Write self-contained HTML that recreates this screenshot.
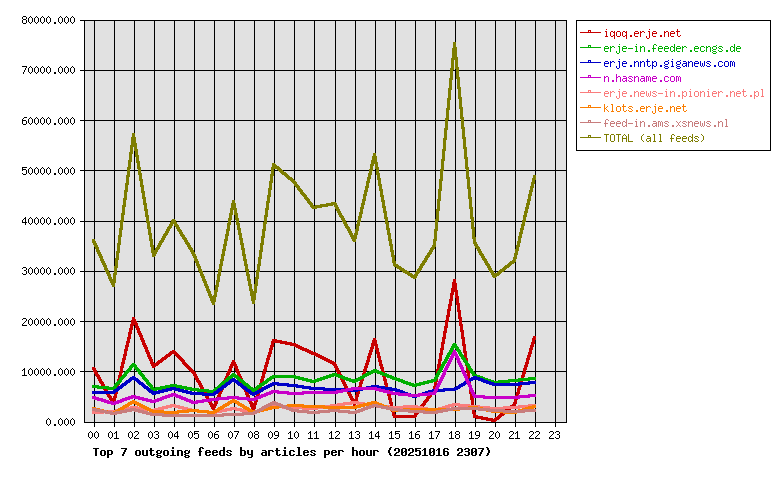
<!DOCTYPE html>
<html><head><meta charset="utf-8"><title>Top 7 outgoing feeds by articles per hour</title>
<style>html,body{margin:0;padding:0;background:#fff;}body{width:780px;height:480px;overflow:hidden;font-family:"Liberation Mono",monospace;}svg{display:block;}</style>
</head><body>
<svg width="780" height="480" viewBox="0 0 780 480" shape-rendering="crispEdges">
<defs><path id="b100" d="M4 2h2v1h-2zM4 3h2v1h-2zM4 4h2v1h-2zM1 5h5v1h-5zM0 6h2v1h-2zM4 6h2v1h-2zM0 7h2v1h-2zM4 7h2v1h-2zM0 8h2v1h-2zM4 8h2v1h-2zM0 9h2v1h-2zM4 9h2v1h-2zM1 10h5v1h-5z"/><path id="b101" d="M1 5h4v1h-4zM0 6h2v1h-2zM4 6h2v1h-2zM0 7h6v1h-6zM0 8h2v1h-2zM0 9h2v1h-2zM4 9h2v1h-2zM1 10h4v1h-4z"/><path id="b102" d="M2 2h3v1h-3zM1 3h2v1h-2zM4 3h2v1h-2zM1 4h2v1h-2zM1 5h2v1h-2zM0 6h4v1h-4zM1 7h2v1h-2zM1 8h2v1h-2zM1 9h2v1h-2zM1 10h2v1h-2z"/><path id="b103" d="M1 5h3v1h-3zM5 5h1v1h-1zM0 6h2v1h-2zM4 6h2v1h-2zM0 7h2v1h-2zM4 7h2v1h-2zM1 8h4v1h-4zM0 9h2v1h-2zM1 10h4v1h-4zM0 11h2v1h-2zM4 11h2v1h-2zM1 12h4v1h-4z"/><path id="b104" d="M0 2h2v1h-2zM0 3h2v1h-2zM0 4h2v1h-2zM0 5h5v1h-5zM0 6h2v1h-2zM4 6h2v1h-2zM0 7h2v1h-2zM4 7h2v1h-2zM0 8h2v1h-2zM4 8h2v1h-2zM0 9h2v1h-2zM4 9h2v1h-2zM0 10h2v1h-2zM4 10h2v1h-2z"/><path id="b105" d="M2 2h2v1h-2zM2 3h2v1h-2zM1 5h3v1h-3zM2 6h2v1h-2zM2 7h2v1h-2zM2 8h2v1h-2zM2 9h2v1h-2zM0 10h6v1h-6z"/><path id="b108" d="M1 2h3v1h-3zM2 3h2v1h-2zM2 4h2v1h-2zM2 5h2v1h-2zM2 6h2v1h-2zM2 7h2v1h-2zM2 8h2v1h-2zM2 9h2v1h-2zM0 10h6v1h-6z"/><path id="b110" d="M0 5h5v1h-5zM0 6h2v1h-2zM4 6h2v1h-2zM0 7h2v1h-2zM4 7h2v1h-2zM0 8h2v1h-2zM4 8h2v1h-2zM0 9h2v1h-2zM4 9h2v1h-2zM0 10h2v1h-2zM4 10h2v1h-2z"/><path id="b111" d="M1 5h4v1h-4zM0 6h2v1h-2zM4 6h2v1h-2zM0 7h2v1h-2zM4 7h2v1h-2zM0 8h2v1h-2zM4 8h2v1h-2zM0 9h2v1h-2zM4 9h2v1h-2zM1 10h4v1h-4z"/><path id="b112" d="M0 5h5v1h-5zM0 6h2v1h-2zM4 6h2v1h-2zM0 7h2v1h-2zM4 7h2v1h-2zM0 8h2v1h-2zM4 8h2v1h-2zM0 9h5v1h-5zM0 10h2v1h-2zM0 11h2v1h-2zM0 12h2v1h-2z"/><path id="b114" d="M0 5h5v1h-5zM0 6h2v1h-2zM4 6h2v1h-2zM0 7h2v1h-2zM0 8h2v1h-2zM0 9h2v1h-2zM0 10h2v1h-2z"/><path id="b115" d="M1 5h4v1h-4zM0 6h2v1h-2zM4 6h2v1h-2zM1 7h2v1h-2zM3 8h2v1h-2zM0 9h2v1h-2zM4 9h2v1h-2zM1 10h4v1h-4z"/><path id="b116" d="M1 3h2v1h-2zM1 4h2v1h-2zM0 5h5v1h-5zM1 6h2v1h-2zM1 7h2v1h-2zM1 8h2v1h-2zM1 9h2v1h-2zM4 9h2v1h-2zM2 10h3v1h-3z"/><path id="b117" d="M0 5h2v1h-2zM4 5h2v1h-2zM0 6h2v1h-2zM4 6h2v1h-2zM0 7h2v1h-2zM4 7h2v1h-2zM0 8h2v1h-2zM4 8h2v1h-2zM0 9h2v1h-2zM4 9h2v1h-2zM1 10h5v1h-5z"/><path id="b121" d="M0 5h2v1h-2zM4 5h2v1h-2zM0 6h2v1h-2zM4 6h2v1h-2zM0 7h2v1h-2zM4 7h2v1h-2zM0 8h2v1h-2zM4 8h2v1h-2zM1 9h5v1h-5zM4 10h2v1h-2zM4 11h2v1h-2zM1 12h4v1h-4z"/><path id="b40" d="M3 2h2v1h-2zM2 3h2v1h-2zM2 4h2v1h-2zM1 5h2v1h-2zM1 6h2v1h-2zM1 7h2v1h-2zM2 8h2v1h-2zM2 9h2v1h-2zM3 10h2v1h-2z"/><path id="b41" d="M1 2h2v1h-2zM2 3h2v1h-2zM2 4h2v1h-2zM3 5h2v1h-2zM3 6h2v1h-2zM3 7h2v1h-2zM2 8h2v1h-2zM2 9h2v1h-2zM1 10h2v1h-2z"/><path id="b48" d="M1 3h4v1h-4zM0 4h2v1h-2zM4 4h2v1h-2zM0 5h2v1h-2zM4 5h2v1h-2zM0 6h2v1h-2zM3 6h3v1h-3zM0 7h3v1h-3zM4 7h2v1h-2zM0 8h2v1h-2zM4 8h2v1h-2zM0 9h2v1h-2zM4 9h2v1h-2zM1 10h4v1h-4z"/><path id="b49" d="M2 3h2v1h-2zM1 4h3v1h-3zM0 5h1v1h-1zM2 5h2v1h-2zM2 6h2v1h-2zM2 7h2v1h-2zM2 8h2v1h-2zM2 9h2v1h-2zM0 10h6v1h-6z"/><path id="b50" d="M1 3h4v1h-4zM0 4h2v1h-2zM4 4h2v1h-2zM0 5h2v1h-2zM4 5h2v1h-2zM4 6h2v1h-2zM2 7h3v1h-3zM1 8h2v1h-2zM0 9h2v1h-2zM0 10h6v1h-6z"/><path id="b51" d="M1 3h4v1h-4zM0 4h2v1h-2zM4 4h2v1h-2zM4 5h2v1h-2zM1 6h4v1h-4zM4 7h2v1h-2zM4 8h2v1h-2zM0 9h2v1h-2zM4 9h2v1h-2zM1 10h4v1h-4z"/><path id="b53" d="M0 3h6v1h-6zM0 4h2v1h-2zM0 5h5v1h-5zM0 6h2v1h-2zM4 6h2v1h-2zM4 7h2v1h-2zM4 8h2v1h-2zM0 9h2v1h-2zM4 9h2v1h-2zM1 10h4v1h-4z"/><path id="b54" d="M1 3h4v1h-4zM0 4h2v1h-2zM4 4h2v1h-2zM0 5h2v1h-2zM0 6h5v1h-5zM0 7h2v1h-2zM4 7h2v1h-2zM0 8h2v1h-2zM4 8h2v1h-2zM0 9h2v1h-2zM4 9h2v1h-2zM1 10h4v1h-4z"/><path id="b55" d="M0 3h6v1h-6zM4 4h2v1h-2zM3 5h2v1h-2zM3 6h2v1h-2zM2 7h2v1h-2zM2 8h2v1h-2zM1 9h2v1h-2zM1 10h2v1h-2z"/><path id="b84" d="M0 3h6v1h-6zM2 4h2v1h-2zM2 5h2v1h-2zM2 6h2v1h-2zM2 7h2v1h-2zM2 8h2v1h-2zM2 9h2v1h-2zM2 10h2v1h-2z"/><path id="b97" d="M1 5h4v1h-4zM4 6h2v1h-2zM1 7h5v1h-5zM0 8h2v1h-2zM4 8h2v1h-2zM0 9h2v1h-2zM4 9h2v1h-2zM1 10h5v1h-5z"/><path id="b98" d="M0 2h2v1h-2zM0 3h2v1h-2zM0 4h2v1h-2zM0 5h5v1h-5zM0 6h2v1h-2zM4 6h2v1h-2zM0 7h2v1h-2zM4 7h2v1h-2zM0 8h2v1h-2zM4 8h2v1h-2zM0 9h2v1h-2zM4 9h2v1h-2zM0 10h5v1h-5z"/><path id="b99" d="M1 5h4v1h-4zM0 6h2v1h-2zM4 6h2v1h-2zM0 7h2v1h-2zM0 8h2v1h-2zM0 9h2v1h-2zM4 9h2v1h-2zM1 10h4v1h-4z"/><path id="s100" d="M4 3h1v1h-1zM4 4h1v1h-1zM1 5h2v1h-2zM4 5h1v1h-1zM0 6h1v1h-1zM3 6h2v1h-2zM0 7h1v1h-1zM4 7h1v1h-1zM0 8h1v1h-1zM4 8h1v1h-1zM0 9h1v1h-1zM3 9h2v1h-2zM1 10h2v1h-2zM4 10h1v1h-1z"/><path id="s101" d="M1 5h3v1h-3zM0 6h1v1h-1zM4 6h1v1h-1zM0 7h5v1h-5zM0 8h1v1h-1zM0 9h1v1h-1zM1 10h3v1h-3z"/><path id="s102" d="M2 3h2v1h-2zM1 4h1v1h-1zM4 4h1v1h-1zM1 5h1v1h-1zM1 6h1v1h-1zM0 7h4v1h-4zM1 8h1v1h-1zM1 9h1v1h-1zM1 10h1v1h-1z"/><path id="s103" d="M4 4h1v1h-1zM1 5h3v1h-3zM0 6h1v1h-1zM4 6h1v1h-1zM0 7h1v1h-1zM4 7h1v1h-1zM1 8h3v1h-3zM0 9h1v1h-1zM1 10h3v1h-3zM0 11h1v1h-1zM4 11h1v1h-1zM1 12h3v1h-3z"/><path id="s104" d="M0 3h1v1h-1zM0 4h1v1h-1zM0 5h1v1h-1zM2 5h2v1h-2zM0 6h2v1h-2zM4 6h1v1h-1zM0 7h1v1h-1zM4 7h1v1h-1zM0 8h1v1h-1zM4 8h1v1h-1zM0 9h1v1h-1zM4 9h1v1h-1zM0 10h1v1h-1zM4 10h1v1h-1z"/><path id="s105" d="M2 3h1v1h-1zM1 5h2v1h-2zM2 6h1v1h-1zM2 7h1v1h-1zM2 8h1v1h-1zM2 9h1v1h-1zM1 10h3v1h-3z"/><path id="s106" d="M3 3h1v1h-1zM2 5h2v1h-2zM3 6h1v1h-1zM3 7h1v1h-1zM3 8h1v1h-1zM3 9h1v1h-1zM0 10h1v1h-1zM3 10h1v1h-1zM0 11h1v1h-1zM3 11h1v1h-1zM1 12h2v1h-2z"/><path id="s107" d="M0 3h1v1h-1zM0 4h1v1h-1zM0 5h1v1h-1zM3 5h1v1h-1zM0 6h1v1h-1zM2 6h1v1h-1zM0 7h2v1h-2zM0 8h1v1h-1zM2 8h1v1h-1zM0 9h1v1h-1zM3 9h1v1h-1zM0 10h1v1h-1zM4 10h1v1h-1z"/><path id="s108" d="M1 3h2v1h-2zM2 4h1v1h-1zM2 5h1v1h-1zM2 6h1v1h-1zM2 7h1v1h-1zM2 8h1v1h-1zM2 9h1v1h-1zM1 10h3v1h-3z"/><path id="s109" d="M0 5h2v1h-2zM3 5h1v1h-1zM0 6h1v1h-1zM2 6h1v1h-1zM4 6h1v1h-1zM0 7h1v1h-1zM2 7h1v1h-1zM4 7h1v1h-1zM0 8h1v1h-1zM2 8h1v1h-1zM4 8h1v1h-1zM0 9h1v1h-1zM2 9h1v1h-1zM4 9h1v1h-1zM0 10h1v1h-1zM4 10h1v1h-1z"/><path id="s110" d="M0 5h1v1h-1zM2 5h2v1h-2zM0 6h2v1h-2zM4 6h1v1h-1zM0 7h1v1h-1zM4 7h1v1h-1zM0 8h1v1h-1zM4 8h1v1h-1zM0 9h1v1h-1zM4 9h1v1h-1zM0 10h1v1h-1zM4 10h1v1h-1z"/><path id="s111" d="M1 5h3v1h-3zM0 6h1v1h-1zM4 6h1v1h-1zM0 7h1v1h-1zM4 7h1v1h-1zM0 8h1v1h-1zM4 8h1v1h-1zM0 9h1v1h-1zM4 9h1v1h-1zM1 10h3v1h-3z"/><path id="s112" d="M0 5h1v1h-1zM2 5h2v1h-2zM0 6h2v1h-2zM4 6h1v1h-1zM0 7h1v1h-1zM4 7h1v1h-1zM0 8h1v1h-1zM4 8h1v1h-1zM0 9h2v1h-2zM4 9h1v1h-1zM0 10h1v1h-1zM2 10h2v1h-2zM0 11h1v1h-1zM0 12h1v1h-1z"/><path id="s113" d="M1 5h2v1h-2zM4 5h1v1h-1zM0 6h1v1h-1zM3 6h2v1h-2zM0 7h1v1h-1zM4 7h1v1h-1zM0 8h1v1h-1zM4 8h1v1h-1zM0 9h1v1h-1zM3 9h2v1h-2zM1 10h2v1h-2zM4 10h1v1h-1zM4 11h1v1h-1zM4 12h1v1h-1z"/><path id="s114" d="M0 5h1v1h-1zM2 5h2v1h-2zM0 6h2v1h-2zM4 6h1v1h-1zM0 7h1v1h-1zM0 8h1v1h-1zM0 9h1v1h-1zM0 10h1v1h-1z"/><path id="s115" d="M1 5h3v1h-3zM0 6h1v1h-1zM4 6h1v1h-1zM1 7h2v1h-2zM3 8h1v1h-1zM0 9h1v1h-1zM4 9h1v1h-1zM1 10h3v1h-3z"/><path id="s116" d="M1 3h1v1h-1zM1 4h1v1h-1zM0 5h4v1h-4zM1 6h1v1h-1zM1 7h1v1h-1zM1 8h1v1h-1zM1 9h1v1h-1zM4 9h1v1h-1zM2 10h2v1h-2z"/><path id="s119" d="M0 5h1v1h-1zM4 5h1v1h-1zM0 6h1v1h-1zM4 6h1v1h-1zM0 7h1v1h-1zM2 7h1v1h-1zM4 7h1v1h-1zM0 8h1v1h-1zM2 8h1v1h-1zM4 8h1v1h-1zM0 9h1v1h-1zM2 9h1v1h-1zM4 9h1v1h-1zM1 10h1v1h-1zM3 10h1v1h-1z"/><path id="s120" d="M0 5h1v1h-1zM4 5h1v1h-1zM1 6h1v1h-1zM3 6h1v1h-1zM2 7h1v1h-1zM2 8h1v1h-1zM1 9h1v1h-1zM3 9h1v1h-1zM0 10h1v1h-1zM4 10h1v1h-1z"/><path id="s40" d="M3 3h1v1h-1zM2 4h1v1h-1zM1 5h1v1h-1zM1 6h1v1h-1zM1 7h1v1h-1zM1 8h1v1h-1zM2 9h1v1h-1zM3 10h1v1h-1z"/><path id="s41" d="M1 3h1v1h-1zM2 4h1v1h-1zM3 5h1v1h-1zM3 6h1v1h-1zM3 7h1v1h-1zM3 8h1v1h-1zM2 9h1v1h-1zM1 10h1v1h-1z"/><path id="s45" d="M0 7h5v1h-5z"/><path id="s46" d="M2 9h2v1h-2zM2 10h2v1h-2z"/><path id="s48" d="M2 3h1v1h-1zM1 4h1v1h-1zM3 4h1v1h-1zM0 5h1v1h-1zM4 5h1v1h-1zM0 6h1v1h-1zM4 6h1v1h-1zM0 7h1v1h-1zM4 7h1v1h-1zM0 8h1v1h-1zM4 8h1v1h-1zM1 9h1v1h-1zM3 9h1v1h-1zM2 10h1v1h-1z"/><path id="s49" d="M2 3h1v1h-1zM1 4h2v1h-2zM0 5h1v1h-1zM2 5h1v1h-1zM2 6h1v1h-1zM2 7h1v1h-1zM2 8h1v1h-1zM2 9h1v1h-1zM0 10h5v1h-5z"/><path id="s50" d="M1 3h3v1h-3zM0 4h1v1h-1zM4 4h1v1h-1zM4 5h1v1h-1zM3 6h1v1h-1zM2 7h1v1h-1zM1 8h1v1h-1zM0 9h1v1h-1zM0 10h5v1h-5z"/><path id="s51" d="M1 3h3v1h-3zM0 4h1v1h-1zM4 4h1v1h-1zM4 5h1v1h-1zM2 6h2v1h-2zM4 7h1v1h-1zM4 8h1v1h-1zM0 9h1v1h-1zM4 9h1v1h-1zM1 10h3v1h-3z"/><path id="s52" d="M3 3h1v1h-1zM2 4h2v1h-2zM1 5h1v1h-1zM3 5h1v1h-1zM0 6h1v1h-1zM3 6h1v1h-1zM0 7h1v1h-1zM3 7h1v1h-1zM0 8h5v1h-5zM3 9h1v1h-1zM3 10h1v1h-1z"/><path id="s53" d="M0 3h5v1h-5zM0 4h1v1h-1zM0 5h4v1h-4zM0 6h1v1h-1zM4 6h1v1h-1zM4 7h1v1h-1zM4 8h1v1h-1zM0 9h1v1h-1zM4 9h1v1h-1zM1 10h3v1h-3z"/><path id="s54" d="M2 3h3v1h-3zM1 4h1v1h-1zM0 5h1v1h-1zM0 6h4v1h-4zM0 7h1v1h-1zM4 7h1v1h-1zM0 8h1v1h-1zM4 8h1v1h-1zM0 9h1v1h-1zM4 9h1v1h-1zM1 10h3v1h-3z"/><path id="s55" d="M0 3h5v1h-5zM4 4h1v1h-1zM3 5h1v1h-1zM3 6h1v1h-1zM2 7h1v1h-1zM2 8h1v1h-1zM1 9h1v1h-1zM1 10h1v1h-1z"/><path id="s56" d="M1 3h3v1h-3zM0 4h1v1h-1zM4 4h1v1h-1zM0 5h1v1h-1zM4 5h1v1h-1zM1 6h3v1h-3zM0 7h1v1h-1zM4 7h1v1h-1zM0 8h1v1h-1zM4 8h1v1h-1zM0 9h1v1h-1zM4 9h1v1h-1zM1 10h3v1h-3z"/><path id="s57" d="M1 3h3v1h-3zM0 4h1v1h-1zM4 4h1v1h-1zM0 5h1v1h-1zM4 5h1v1h-1zM0 6h1v1h-1zM4 6h1v1h-1zM1 7h4v1h-4zM4 8h1v1h-1zM3 9h1v1h-1zM0 10h3v1h-3z"/><path id="s65" d="M2 3h1v1h-1zM1 4h1v1h-1zM3 4h1v1h-1zM0 5h1v1h-1zM4 5h1v1h-1zM0 6h1v1h-1zM4 6h1v1h-1zM0 7h5v1h-5zM0 8h1v1h-1zM4 8h1v1h-1zM0 9h1v1h-1zM4 9h1v1h-1zM0 10h1v1h-1zM4 10h1v1h-1z"/><path id="s76" d="M0 3h1v1h-1zM0 4h1v1h-1zM0 5h1v1h-1zM0 6h1v1h-1zM0 7h1v1h-1zM0 8h1v1h-1zM0 9h1v1h-1zM0 10h5v1h-5z"/><path id="s79" d="M1 3h3v1h-3zM0 4h1v1h-1zM4 4h1v1h-1zM0 5h1v1h-1zM4 5h1v1h-1zM0 6h1v1h-1zM4 6h1v1h-1zM0 7h1v1h-1zM4 7h1v1h-1zM0 8h1v1h-1zM4 8h1v1h-1zM0 9h1v1h-1zM4 9h1v1h-1zM1 10h3v1h-3z"/><path id="s84" d="M0 3h5v1h-5zM2 4h1v1h-1zM2 5h1v1h-1zM2 6h1v1h-1zM2 7h1v1h-1zM2 8h1v1h-1zM2 9h1v1h-1zM2 10h1v1h-1z"/><path id="s97" d="M1 5h3v1h-3zM4 6h1v1h-1zM1 7h4v1h-4zM0 8h1v1h-1zM4 8h1v1h-1zM0 9h1v1h-1zM3 9h2v1h-2zM1 10h2v1h-2zM4 10h1v1h-1z"/><path id="s99" d="M1 5h3v1h-3zM0 6h1v1h-1zM4 6h1v1h-1zM0 7h1v1h-1zM0 8h1v1h-1zM0 9h1v1h-1zM4 9h1v1h-1zM1 10h3v1h-3z"/></defs>
<rect width="780" height="480" fill="#fff"/>
<rect x="84" y="20" width="483" height="403" fill="#e1e1e1"/>
<path fill="#000" d="M84 422h483v1h-483zM80 371h487v1h-487zM80 321h487v1h-487zM80 271h487v1h-487zM80 221h487v1h-487zM80 170h487v1h-487zM80 120h487v1h-487zM80 70h487v1h-487zM80 20h487v1h-487zM94 20h1v407h-1zM114 20h1v407h-1zM134 20h1v407h-1zM154 20h1v407h-1zM174 20h1v407h-1zM194 20h1v407h-1zM214 20h1v407h-1zM234 20h1v407h-1zM254 20h1v407h-1zM274 20h1v407h-1zM294 20h1v407h-1zM314 20h1v407h-1zM335 20h1v407h-1zM355 20h1v407h-1zM375 20h1v407h-1zM395 20h1v407h-1zM415 20h1v407h-1zM435 20h1v407h-1zM455 20h1v407h-1zM475 20h1v407h-1zM495 20h1v407h-1zM515 20h1v407h-1zM535 20h1v407h-1zM555 20h1v407h-1zM84 20h1v403h-1zM566 20h1v403h-1zM576 20h195v1h-195zM576 150h195v1h-195zM576 20h1v131h-1zM770 20h1v131h-1z"/>
<g transform="translate(46 415)" fill="#000"><use href="#s48" x="0"/><use href="#s46" x="6"/><use href="#s48" x="12"/><use href="#s48" x="18"/><use href="#s48" x="24"/></g>
<g transform="translate(22 365)" fill="#000"><use href="#s49" x="0"/><use href="#s48" x="6"/><use href="#s48" x="12"/><use href="#s48" x="18"/><use href="#s48" x="24"/><use href="#s46" x="30"/><use href="#s48" x="36"/><use href="#s48" x="42"/><use href="#s48" x="48"/></g>
<g transform="translate(22 315)" fill="#000"><use href="#s50" x="0"/><use href="#s48" x="6"/><use href="#s48" x="12"/><use href="#s48" x="18"/><use href="#s48" x="24"/><use href="#s46" x="30"/><use href="#s48" x="36"/><use href="#s48" x="42"/><use href="#s48" x="48"/></g>
<g transform="translate(22 264)" fill="#000"><use href="#s51" x="0"/><use href="#s48" x="6"/><use href="#s48" x="12"/><use href="#s48" x="18"/><use href="#s48" x="24"/><use href="#s46" x="30"/><use href="#s48" x="36"/><use href="#s48" x="42"/><use href="#s48" x="48"/></g>
<g transform="translate(22 214)" fill="#000"><use href="#s52" x="0"/><use href="#s48" x="6"/><use href="#s48" x="12"/><use href="#s48" x="18"/><use href="#s48" x="24"/><use href="#s46" x="30"/><use href="#s48" x="36"/><use href="#s48" x="42"/><use href="#s48" x="48"/></g>
<g transform="translate(22 164)" fill="#000"><use href="#s53" x="0"/><use href="#s48" x="6"/><use href="#s48" x="12"/><use href="#s48" x="18"/><use href="#s48" x="24"/><use href="#s46" x="30"/><use href="#s48" x="36"/><use href="#s48" x="42"/><use href="#s48" x="48"/></g>
<g transform="translate(22 114)" fill="#000"><use href="#s54" x="0"/><use href="#s48" x="6"/><use href="#s48" x="12"/><use href="#s48" x="18"/><use href="#s48" x="24"/><use href="#s46" x="30"/><use href="#s48" x="36"/><use href="#s48" x="42"/><use href="#s48" x="48"/></g>
<g transform="translate(22 63)" fill="#000"><use href="#s55" x="0"/><use href="#s48" x="6"/><use href="#s48" x="12"/><use href="#s48" x="18"/><use href="#s48" x="24"/><use href="#s46" x="30"/><use href="#s48" x="36"/><use href="#s48" x="42"/><use href="#s48" x="48"/></g>
<g transform="translate(22 13)" fill="#000"><use href="#s56" x="0"/><use href="#s48" x="6"/><use href="#s48" x="12"/><use href="#s48" x="18"/><use href="#s48" x="24"/><use href="#s46" x="30"/><use href="#s48" x="36"/><use href="#s48" x="42"/><use href="#s48" x="48"/></g>
<g transform="translate(88 428)" fill="#000"><use href="#s48" x="0"/><use href="#s48" x="6"/></g>
<g transform="translate(108 428)" fill="#000"><use href="#s48" x="0"/><use href="#s49" x="6"/></g>
<g transform="translate(128 428)" fill="#000"><use href="#s48" x="0"/><use href="#s50" x="6"/></g>
<g transform="translate(148 428)" fill="#000"><use href="#s48" x="0"/><use href="#s51" x="6"/></g>
<g transform="translate(168 428)" fill="#000"><use href="#s48" x="0"/><use href="#s52" x="6"/></g>
<g transform="translate(188 428)" fill="#000"><use href="#s48" x="0"/><use href="#s53" x="6"/></g>
<g transform="translate(208 428)" fill="#000"><use href="#s48" x="0"/><use href="#s54" x="6"/></g>
<g transform="translate(228 428)" fill="#000"><use href="#s48" x="0"/><use href="#s55" x="6"/></g>
<g transform="translate(248 428)" fill="#000"><use href="#s48" x="0"/><use href="#s56" x="6"/></g>
<g transform="translate(268 428)" fill="#000"><use href="#s48" x="0"/><use href="#s57" x="6"/></g>
<g transform="translate(288 428)" fill="#000"><use href="#s49" x="0"/><use href="#s48" x="6"/></g>
<g transform="translate(308 428)" fill="#000"><use href="#s49" x="0"/><use href="#s49" x="6"/></g>
<g transform="translate(329 428)" fill="#000"><use href="#s49" x="0"/><use href="#s50" x="6"/></g>
<g transform="translate(349 428)" fill="#000"><use href="#s49" x="0"/><use href="#s51" x="6"/></g>
<g transform="translate(369 428)" fill="#000"><use href="#s49" x="0"/><use href="#s52" x="6"/></g>
<g transform="translate(389 428)" fill="#000"><use href="#s49" x="0"/><use href="#s53" x="6"/></g>
<g transform="translate(409 428)" fill="#000"><use href="#s49" x="0"/><use href="#s54" x="6"/></g>
<g transform="translate(429 428)" fill="#000"><use href="#s49" x="0"/><use href="#s55" x="6"/></g>
<g transform="translate(449 428)" fill="#000"><use href="#s49" x="0"/><use href="#s56" x="6"/></g>
<g transform="translate(469 428)" fill="#000"><use href="#s49" x="0"/><use href="#s57" x="6"/></g>
<g transform="translate(489 428)" fill="#000"><use href="#s50" x="0"/><use href="#s48" x="6"/></g>
<g transform="translate(509 428)" fill="#000"><use href="#s50" x="0"/><use href="#s49" x="6"/></g>
<g transform="translate(529 428)" fill="#000"><use href="#s50" x="0"/><use href="#s50" x="6"/></g>
<g transform="translate(549 428)" fill="#000"><use href="#s50" x="0"/><use href="#s51" x="6"/></g>
<g transform="translate(93 445)" fill="#000"><use href="#b84" x="0"/><use href="#b111" x="7"/><use href="#b112" x="14"/><use href="#b55" x="28"/><use href="#b111" x="42"/><use href="#b117" x="49"/><use href="#b116" x="56"/><use href="#b103" x="63"/><use href="#b111" x="70"/><use href="#b105" x="77"/><use href="#b110" x="84"/><use href="#b103" x="91"/><use href="#b102" x="105"/><use href="#b101" x="112"/><use href="#b101" x="119"/><use href="#b100" x="126"/><use href="#b115" x="133"/><use href="#b98" x="147"/><use href="#b121" x="154"/><use href="#b97" x="168"/><use href="#b114" x="175"/><use href="#b116" x="182"/><use href="#b105" x="189"/><use href="#b99" x="196"/><use href="#b108" x="203"/><use href="#b101" x="210"/><use href="#b115" x="217"/><use href="#b112" x="231"/><use href="#b101" x="238"/><use href="#b114" x="245"/><use href="#b104" x="259"/><use href="#b111" x="266"/><use href="#b117" x="273"/><use href="#b114" x="280"/><use href="#b40" x="294"/><use href="#b50" x="301"/><use href="#b48" x="308"/><use href="#b50" x="315"/><use href="#b53" x="322"/><use href="#b49" x="329"/><use href="#b48" x="336"/><use href="#b49" x="343"/><use href="#b54" x="350"/><use href="#b50" x="364"/><use href="#b51" x="371"/><use href="#b48" x="378"/><use href="#b55" x="385"/><use href="#b41" x="392"/></g>
<path fill="#c80000" d="M580 32h21v1h-21zM588 30h3v1h-3zM588 31h1v1h-1zM590 31h1v1h-1z"/>
<g transform="translate(604 26)" fill="#c80000"><use href="#s105" x="0"/><use href="#s113" x="6"/><use href="#s111" x="12"/><use href="#s113" x="18"/><use href="#s46" x="24"/><use href="#s101" x="30"/><use href="#s114" x="36"/><use href="#s106" x="42"/><use href="#s101" x="48"/><use href="#s46" x="54"/><use href="#s110" x="60"/><use href="#s101" x="66"/><use href="#s116" x="72"/></g>
<path fill="#00af00" d="M580 47h21v1h-21zM588 45h3v1h-3zM588 46h1v1h-1zM590 46h1v1h-1z"/>
<g transform="translate(604 41)" fill="#00af00"><use href="#s101" x="0"/><use href="#s114" x="6"/><use href="#s106" x="12"/><use href="#s101" x="18"/><use href="#s45" x="24"/><use href="#s105" x="30"/><use href="#s110" x="36"/><use href="#s46" x="42"/><use href="#s102" x="48"/><use href="#s101" x="54"/><use href="#s101" x="60"/><use href="#s100" x="66"/><use href="#s101" x="72"/><use href="#s114" x="78"/><use href="#s46" x="84"/><use href="#s101" x="90"/><use href="#s99" x="96"/><use href="#s110" x="102"/><use href="#s103" x="108"/><use href="#s115" x="114"/><use href="#s46" x="120"/><use href="#s100" x="126"/><use href="#s101" x="132"/></g>
<path fill="#0000c8" d="M580 62h21v1h-21zM588 60h3v1h-3zM588 61h1v1h-1zM590 61h1v1h-1z"/>
<g transform="translate(604 56)" fill="#0000c8"><use href="#s101" x="0"/><use href="#s114" x="6"/><use href="#s106" x="12"/><use href="#s101" x="18"/><use href="#s46" x="24"/><use href="#s110" x="30"/><use href="#s110" x="36"/><use href="#s116" x="42"/><use href="#s112" x="48"/><use href="#s46" x="54"/><use href="#s103" x="60"/><use href="#s105" x="66"/><use href="#s103" x="72"/><use href="#s97" x="78"/><use href="#s110" x="84"/><use href="#s101" x="90"/><use href="#s119" x="96"/><use href="#s115" x="102"/><use href="#s46" x="108"/><use href="#s99" x="114"/><use href="#s111" x="120"/><use href="#s109" x="126"/></g>
<path fill="#c800c8" d="M580 77h21v1h-21zM588 75h3v1h-3zM588 76h1v1h-1zM590 76h1v1h-1z"/>
<g transform="translate(604 71)" fill="#c800c8"><use href="#s110" x="0"/><use href="#s46" x="6"/><use href="#s104" x="12"/><use href="#s97" x="18"/><use href="#s115" x="24"/><use href="#s110" x="30"/><use href="#s97" x="36"/><use href="#s109" x="42"/><use href="#s101" x="48"/><use href="#s46" x="54"/><use href="#s99" x="60"/><use href="#s111" x="66"/><use href="#s109" x="72"/></g>
<path fill="#fa7d7d" d="M580 92h21v1h-21zM588 90h3v1h-3zM588 91h1v1h-1zM590 91h1v1h-1z"/>
<g transform="translate(604 86)" fill="#fa7d7d"><use href="#s101" x="0"/><use href="#s114" x="6"/><use href="#s106" x="12"/><use href="#s101" x="18"/><use href="#s46" x="24"/><use href="#s110" x="30"/><use href="#s101" x="36"/><use href="#s119" x="42"/><use href="#s115" x="48"/><use href="#s45" x="54"/><use href="#s105" x="60"/><use href="#s110" x="66"/><use href="#s46" x="72"/><use href="#s112" x="78"/><use href="#s105" x="84"/><use href="#s111" x="90"/><use href="#s110" x="96"/><use href="#s105" x="102"/><use href="#s101" x="108"/><use href="#s114" x="114"/><use href="#s46" x="120"/><use href="#s110" x="126"/><use href="#s101" x="132"/><use href="#s116" x="138"/><use href="#s46" x="144"/><use href="#s112" x="150"/><use href="#s108" x="156"/></g>
<path fill="#fa7d00" d="M580 107h21v1h-21zM588 105h3v1h-3zM588 106h1v1h-1zM590 106h1v1h-1z"/>
<g transform="translate(604 101)" fill="#fa7d00"><use href="#s107" x="0"/><use href="#s108" x="6"/><use href="#s111" x="12"/><use href="#s116" x="18"/><use href="#s115" x="24"/><use href="#s46" x="30"/><use href="#s101" x="36"/><use href="#s114" x="42"/><use href="#s106" x="48"/><use href="#s101" x="54"/><use href="#s46" x="60"/><use href="#s110" x="66"/><use href="#s101" x="72"/><use href="#s116" x="78"/></g>
<path fill="#c87d7d" d="M580 122h21v1h-21zM588 120h3v1h-3zM588 121h1v1h-1zM590 121h1v1h-1z"/>
<g transform="translate(604 116)" fill="#c87d7d"><use href="#s102" x="0"/><use href="#s101" x="6"/><use href="#s101" x="12"/><use href="#s100" x="18"/><use href="#s45" x="24"/><use href="#s105" x="30"/><use href="#s110" x="36"/><use href="#s46" x="42"/><use href="#s97" x="48"/><use href="#s109" x="54"/><use href="#s115" x="60"/><use href="#s46" x="66"/><use href="#s120" x="72"/><use href="#s115" x="78"/><use href="#s110" x="84"/><use href="#s101" x="90"/><use href="#s119" x="96"/><use href="#s115" x="102"/><use href="#s46" x="108"/><use href="#s110" x="114"/><use href="#s108" x="120"/></g>
<path fill="#7d7d00" d="M580 137h21v1h-21zM588 135h3v1h-3zM588 136h1v1h-1zM590 136h1v1h-1z"/>
<g transform="translate(604 131)" fill="#7d7d00"><use href="#s84" x="0"/><use href="#s79" x="6"/><use href="#s84" x="12"/><use href="#s65" x="18"/><use href="#s76" x="24"/><use href="#s40" x="36"/><use href="#s97" x="42"/><use href="#s108" x="48"/><use href="#s108" x="54"/><use href="#s102" x="66"/><use href="#s101" x="72"/><use href="#s101" x="78"/><use href="#s100" x="84"/><use href="#s115" x="90"/><use href="#s41" x="96"/></g>
<path fill="#c80000" d="M453 279h3v1h-3zM453 280h3v1h-3zM453 281h3v1h-3zM452 282h4v1h-4zM452 283h5v1h-5zM452 284h5v1h-5zM452 285h5v1h-5zM452 286h5v1h-5zM452 287h5v1h-5zM451 288h6v1h-6zM451 289h6v1h-6zM451 290h7v1h-7zM451 291h7v1h-7zM451 292h3v1h-3zM455 292h3v1h-3zM450 293h4v1h-4zM455 293h3v1h-3zM450 294h4v1h-4zM455 294h3v1h-3zM450 295h3v1h-3zM455 295h3v1h-3zM450 296h3v1h-3zM455 296h4v1h-4zM450 297h3v1h-3zM455 297h4v1h-4zM450 298h3v1h-3zM456 298h3v1h-3zM449 299h4v1h-4zM456 299h3v1h-3zM449 300h4v1h-4zM456 300h3v1h-3zM449 301h3v1h-3zM456 301h3v1h-3zM449 302h3v1h-3zM456 302h3v1h-3zM449 303h3v1h-3zM456 303h4v1h-4zM448 304h4v1h-4zM456 304h4v1h-4zM448 305h4v1h-4zM457 305h3v1h-3zM448 306h3v1h-3zM457 306h3v1h-3zM448 307h3v1h-3zM457 307h3v1h-3zM448 308h3v1h-3zM457 308h3v1h-3zM447 309h4v1h-4zM457 309h3v1h-3zM447 310h4v1h-4zM457 310h4v1h-4zM447 311h3v1h-3zM457 311h4v1h-4zM447 312h3v1h-3zM458 312h3v1h-3zM447 313h3v1h-3zM458 313h3v1h-3zM447 314h3v1h-3zM458 314h3v1h-3zM446 315h4v1h-4zM458 315h3v1h-3zM446 316h4v1h-4zM458 316h3v1h-3zM132 317h3v1h-3zM446 317h3v1h-3zM458 317h4v1h-4zM132 318h3v1h-3zM446 318h3v1h-3zM458 318h4v1h-4zM132 319h4v1h-4zM446 319h3v1h-3zM459 319h3v1h-3zM131 320h5v1h-5zM445 320h4v1h-4zM459 320h3v1h-3zM131 321h6v1h-6zM445 321h4v1h-4zM459 321h3v1h-3zM131 322h6v1h-6zM445 322h3v1h-3zM459 322h3v1h-3zM131 323h7v1h-7zM445 323h3v1h-3zM459 323h3v1h-3zM130 324h8v1h-8zM445 324h3v1h-3zM459 324h4v1h-4zM130 325h4v1h-4zM135 325h3v1h-3zM445 325h3v1h-3zM459 325h4v1h-4zM130 326h3v1h-3zM135 326h4v1h-4zM444 326h4v1h-4zM460 326h3v1h-3zM130 327h3v1h-3zM135 327h4v1h-4zM444 327h4v1h-4zM460 327h3v1h-3zM129 328h4v1h-4zM136 328h4v1h-4zM444 328h3v1h-3zM460 328h3v1h-3zM129 329h4v1h-4zM136 329h4v1h-4zM444 329h3v1h-3zM460 329h3v1h-3zM129 330h3v1h-3zM137 330h3v1h-3zM444 330h3v1h-3zM460 330h4v1h-4zM129 331h3v1h-3zM137 331h4v1h-4zM443 331h4v1h-4zM460 331h4v1h-4zM128 332h4v1h-4zM137 332h4v1h-4zM443 332h4v1h-4zM461 332h3v1h-3zM128 333h4v1h-4zM138 333h4v1h-4zM443 333h3v1h-3zM461 333h3v1h-3zM128 334h3v1h-3zM138 334h4v1h-4zM443 334h3v1h-3zM461 334h3v1h-3zM128 335h3v1h-3zM139 335h4v1h-4zM443 335h3v1h-3zM461 335h3v1h-3zM128 336h3v1h-3zM139 336h4v1h-4zM443 336h3v1h-3zM461 336h3v1h-3zM533 336h3v1h-3zM127 337h4v1h-4zM140 337h3v1h-3zM442 337h4v1h-4zM461 337h4v1h-4zM533 337h3v1h-3zM127 338h4v1h-4zM140 338h4v1h-4zM373 338h3v1h-3zM442 338h4v1h-4zM461 338h4v1h-4zM532 338h4v1h-4zM127 339h3v1h-3zM140 339h4v1h-4zM272 339h5v1h-5zM373 339h3v1h-3zM442 339h3v1h-3zM462 339h3v1h-3zM532 339h4v1h-4zM127 340h3v1h-3zM141 340h4v1h-4zM272 340h10v1h-10zM372 340h5v1h-5zM442 340h3v1h-3zM462 340h3v1h-3zM532 340h3v1h-3zM126 341h4v1h-4zM141 341h4v1h-4zM271 341h16v1h-16zM372 341h5v1h-5zM442 341h3v1h-3zM462 341h3v1h-3zM532 341h3v1h-3zM126 342h4v1h-4zM142 342h3v1h-3zM271 342h21v1h-21zM372 342h5v1h-5zM441 342h4v1h-4zM462 342h3v1h-3zM531 342h4v1h-4zM126 343h3v1h-3zM142 343h4v1h-4zM271 343h3v1h-3zM280 343h16v1h-16zM371 343h6v1h-6zM441 343h4v1h-4zM462 343h3v1h-3zM531 343h4v1h-4zM126 344h3v1h-3zM142 344h4v1h-4zM271 344h3v1h-3zM285 344h13v1h-13zM371 344h7v1h-7zM441 344h3v1h-3zM462 344h4v1h-4zM531 344h3v1h-3zM125 345h4v1h-4zM143 345h4v1h-4zM270 345h4v1h-4zM290 345h10v1h-10zM371 345h7v1h-7zM441 345h3v1h-3zM462 345h4v1h-4zM530 345h4v1h-4zM125 346h4v1h-4zM143 346h4v1h-4zM270 346h4v1h-4zM294 346h8v1h-8zM371 346h3v1h-3zM375 346h3v1h-3zM441 346h3v1h-3zM463 346h3v1h-3zM530 346h4v1h-4zM125 347h3v1h-3zM144 347h4v1h-4zM270 347h3v1h-3zM296 347h8v1h-8zM370 347h4v1h-4zM375 347h3v1h-3zM441 347h3v1h-3zM463 347h3v1h-3zM530 347h3v1h-3zM125 348h3v1h-3zM144 348h4v1h-4zM269 348h4v1h-4zM298 348h9v1h-9zM370 348h4v1h-4zM375 348h4v1h-4zM440 348h4v1h-4zM463 348h3v1h-3zM529 348h4v1h-4zM124 349h4v1h-4zM145 349h3v1h-3zM269 349h4v1h-4zM300 349h9v1h-9zM370 349h3v1h-3zM375 349h4v1h-4zM440 349h4v1h-4zM463 349h3v1h-3zM529 349h4v1h-4zM124 350h4v1h-4zM145 350h4v1h-4zM172 350h3v1h-3zM269 350h3v1h-3zM302 350h9v1h-9zM369 350h4v1h-4zM376 350h3v1h-3zM440 350h3v1h-3zM463 350h3v1h-3zM529 350h3v1h-3zM124 351h3v1h-3zM145 351h4v1h-4zM170 351h6v1h-6zM269 351h3v1h-3zM305 351h8v1h-8zM369 351h4v1h-4zM376 351h3v1h-3zM440 351h3v1h-3zM463 351h4v1h-4zM529 351h3v1h-3zM124 352h3v1h-3zM146 352h4v1h-4zM169 352h8v1h-8zM268 352h4v1h-4zM307 352h9v1h-9zM369 352h3v1h-3zM376 352h4v1h-4zM440 352h3v1h-3zM463 352h4v1h-4zM528 352h4v1h-4zM124 353h3v1h-3zM146 353h4v1h-4zM168 353h10v1h-10zM268 353h4v1h-4zM309 353h9v1h-9zM368 353h4v1h-4zM376 353h4v1h-4zM439 353h4v1h-4zM464 353h3v1h-3zM528 353h4v1h-4zM123 354h4v1h-4zM147 354h3v1h-3zM166 354h6v1h-6zM174 354h5v1h-5zM268 354h3v1h-3zM311 354h9v1h-9zM368 354h4v1h-4zM377 354h3v1h-3zM439 354h4v1h-4zM464 354h3v1h-3zM528 354h3v1h-3zM123 355h4v1h-4zM147 355h4v1h-4zM165 355h6v1h-6zM175 355h5v1h-5zM267 355h4v1h-4zM314 355h8v1h-8zM368 355h3v1h-3zM377 355h3v1h-3zM439 355h3v1h-3zM464 355h3v1h-3zM527 355h4v1h-4zM123 356h3v1h-3zM147 356h4v1h-4zM164 356h6v1h-6zM176 356h5v1h-5zM267 356h4v1h-4zM316 356h8v1h-8zM367 356h4v1h-4zM377 356h4v1h-4zM439 356h3v1h-3zM464 356h3v1h-3zM527 356h4v1h-4zM123 357h3v1h-3zM148 357h4v1h-4zM162 357h6v1h-6zM177 357h5v1h-5zM267 357h3v1h-3zM318 357h8v1h-8zM367 357h4v1h-4zM377 357h4v1h-4zM439 357h3v1h-3zM464 357h3v1h-3zM527 357h3v1h-3zM122 358h4v1h-4zM148 358h4v1h-4zM161 358h6v1h-6zM178 358h5v1h-5zM266 358h4v1h-4zM320 358h8v1h-8zM367 358h3v1h-3zM378 358h3v1h-3zM439 358h3v1h-3zM464 358h4v1h-4zM526 358h4v1h-4zM122 359h4v1h-4zM149 359h4v1h-4zM160 359h6v1h-6zM179 359h5v1h-5zM266 359h4v1h-4zM322 359h8v1h-8zM367 359h3v1h-3zM378 359h3v1h-3zM438 359h4v1h-4zM464 359h4v1h-4zM526 359h4v1h-4zM122 360h3v1h-3zM149 360h4v1h-4zM158 360h6v1h-6zM180 360h5v1h-5zM232 360h3v1h-3zM266 360h3v1h-3zM324 360h8v1h-8zM366 360h4v1h-4zM378 360h4v1h-4zM438 360h4v1h-4zM465 360h3v1h-3zM526 360h3v1h-3zM122 361h3v1h-3zM150 361h3v1h-3zM157 361h6v1h-6zM181 361h4v1h-4zM232 361h3v1h-3zM266 361h3v1h-3zM326 361h8v1h-8zM366 361h4v1h-4zM378 361h4v1h-4zM438 361h3v1h-3zM465 361h3v1h-3zM526 361h3v1h-3zM121 362h4v1h-4zM150 362h4v1h-4zM156 362h6v1h-6zM182 362h4v1h-4zM231 362h5v1h-5zM265 362h4v1h-4zM328 362h8v1h-8zM366 362h3v1h-3zM379 362h3v1h-3zM438 362h3v1h-3zM465 362h3v1h-3zM525 362h4v1h-4zM121 363h4v1h-4zM150 363h10v1h-10zM182 363h5v1h-5zM231 363h5v1h-5zM265 363h4v1h-4zM330 363h6v1h-6zM365 363h4v1h-4zM379 363h3v1h-3zM438 363h3v1h-3zM465 363h3v1h-3zM525 363h4v1h-4zM121 364h3v1h-3zM151 364h8v1h-8zM183 364h5v1h-5zM230 364h7v1h-7zM265 364h3v1h-3zM332 364h5v1h-5zM365 364h4v1h-4zM379 364h4v1h-4zM437 364h4v1h-4zM465 364h4v1h-4zM525 364h3v1h-3zM121 365h3v1h-3zM151 365h7v1h-7zM184 365h5v1h-5zM230 365h7v1h-7zM264 365h4v1h-4zM333 365h4v1h-4zM365 365h3v1h-3zM379 365h4v1h-4zM437 365h4v1h-4zM465 365h4v1h-4zM524 365h4v1h-4zM120 366h4v1h-4zM152 366h4v1h-4zM185 366h5v1h-5zM229 366h4v1h-4zM234 366h4v1h-4zM264 366h4v1h-4zM334 366h4v1h-4zM364 366h4v1h-4zM380 366h3v1h-3zM437 366h3v1h-3zM466 366h3v1h-3zM524 366h4v1h-4zM92 367h3v1h-3zM120 367h4v1h-4zM152 367h3v1h-3zM186 367h5v1h-5zM229 367h4v1h-4zM234 367h4v1h-4zM264 367h3v1h-3zM334 367h4v1h-4zM364 367h4v1h-4zM380 367h4v1h-4zM437 367h3v1h-3zM466 367h3v1h-3zM524 367h3v1h-3zM92 368h4v1h-4zM120 368h3v1h-3zM187 368h5v1h-5zM229 368h3v1h-3zM235 368h3v1h-3zM264 368h3v1h-3zM335 368h4v1h-4zM364 368h3v1h-3zM380 368h4v1h-4zM437 368h3v1h-3zM466 368h3v1h-3zM523 368h4v1h-4zM92 369h4v1h-4zM120 369h3v1h-3zM188 369h5v1h-5zM228 369h4v1h-4zM235 369h4v1h-4zM263 369h4v1h-4zM335 369h4v1h-4zM363 369h4v1h-4zM381 369h3v1h-3zM436 369h4v1h-4zM466 369h3v1h-3zM523 369h4v1h-4zM93 370h4v1h-4zM120 370h3v1h-3zM189 370h5v1h-5zM228 370h4v1h-4zM235 370h4v1h-4zM263 370h4v1h-4zM336 370h4v1h-4zM363 370h4v1h-4zM381 370h3v1h-3zM436 370h4v1h-4zM466 370h3v1h-3zM523 370h3v1h-3zM93 371h4v1h-4zM119 371h4v1h-4zM190 371h5v1h-5zM227 371h4v1h-4zM236 371h4v1h-4zM263 371h3v1h-3zM336 371h4v1h-4zM363 371h3v1h-3zM381 371h4v1h-4zM436 371h3v1h-3zM466 371h4v1h-4zM523 371h3v1h-3zM94 372h4v1h-4zM119 372h4v1h-4zM191 372h5v1h-5zM227 372h4v1h-4zM236 372h4v1h-4zM262 372h4v1h-4zM337 372h4v1h-4zM363 372h3v1h-3zM381 372h4v1h-4zM436 372h3v1h-3zM466 372h4v1h-4zM522 372h4v1h-4zM94 373h4v1h-4zM119 373h3v1h-3zM192 373h4v1h-4zM226 373h4v1h-4zM237 373h3v1h-3zM262 373h4v1h-4zM337 373h4v1h-4zM362 373h4v1h-4zM382 373h3v1h-3zM436 373h3v1h-3zM467 373h3v1h-3zM522 373h4v1h-4zM95 374h4v1h-4zM119 374h3v1h-3zM193 374h4v1h-4zM226 374h4v1h-4zM237 374h4v1h-4zM262 374h3v1h-3zM338 374h4v1h-4zM362 374h4v1h-4zM382 374h3v1h-3zM436 374h3v1h-3zM467 374h3v1h-3zM522 374h3v1h-3zM95 375h5v1h-5zM118 375h4v1h-4zM193 375h4v1h-4zM226 375h3v1h-3zM237 375h4v1h-4zM262 375h3v1h-3zM338 375h4v1h-4zM362 375h3v1h-3zM382 375h4v1h-4zM435 375h4v1h-4zM467 375h3v1h-3zM521 375h4v1h-4zM96 376h4v1h-4zM118 376h4v1h-4zM194 376h4v1h-4zM225 376h4v1h-4zM238 376h4v1h-4zM261 376h4v1h-4zM339 376h4v1h-4zM361 376h4v1h-4zM382 376h4v1h-4zM435 376h4v1h-4zM467 376h3v1h-3zM521 376h4v1h-4zM97 377h4v1h-4zM118 377h3v1h-3zM194 377h4v1h-4zM225 377h4v1h-4zM238 377h4v1h-4zM261 377h4v1h-4zM339 377h4v1h-4zM361 377h4v1h-4zM383 377h3v1h-3zM435 377h3v1h-3zM467 377h3v1h-3zM521 377h3v1h-3zM97 378h4v1h-4zM118 378h3v1h-3zM195 378h4v1h-4zM224 378h4v1h-4zM239 378h4v1h-4zM261 378h3v1h-3zM340 378h4v1h-4zM361 378h3v1h-3zM383 378h3v1h-3zM435 378h3v1h-3zM467 378h4v1h-4zM520 378h4v1h-4zM98 379h4v1h-4zM117 379h4v1h-4zM195 379h4v1h-4zM224 379h4v1h-4zM239 379h4v1h-4zM260 379h4v1h-4zM340 379h4v1h-4zM360 379h4v1h-4zM383 379h4v1h-4zM435 379h3v1h-3zM467 379h4v1h-4zM520 379h4v1h-4zM98 380h4v1h-4zM117 380h4v1h-4zM196 380h4v1h-4zM223 380h4v1h-4zM240 380h3v1h-3zM260 380h4v1h-4zM341 380h4v1h-4zM360 380h4v1h-4zM383 380h4v1h-4zM434 380h4v1h-4zM468 380h3v1h-3zM520 380h3v1h-3zM99 381h4v1h-4zM117 381h3v1h-3zM196 381h5v1h-5zM223 381h4v1h-4zM240 381h4v1h-4zM260 381h3v1h-3zM341 381h4v1h-4zM360 381h3v1h-3zM384 381h3v1h-3zM434 381h4v1h-4zM468 381h3v1h-3zM520 381h3v1h-3zM99 382h5v1h-5zM117 382h3v1h-3zM197 382h4v1h-4zM223 382h3v1h-3zM240 382h4v1h-4zM260 382h3v1h-3zM342 382h4v1h-4zM359 382h4v1h-4zM384 382h3v1h-3zM434 382h3v1h-3zM468 382h3v1h-3zM519 382h4v1h-4zM100 383h4v1h-4zM116 383h4v1h-4zM198 383h4v1h-4zM222 383h4v1h-4zM241 383h4v1h-4zM259 383h4v1h-4zM342 383h4v1h-4zM359 383h4v1h-4zM384 383h4v1h-4zM434 383h3v1h-3zM468 383h3v1h-3zM519 383h4v1h-4zM101 384h4v1h-4zM116 384h4v1h-4zM198 384h4v1h-4zM222 384h4v1h-4zM241 384h4v1h-4zM259 384h4v1h-4zM343 384h4v1h-4zM359 384h3v1h-3zM384 384h4v1h-4zM434 384h3v1h-3zM468 384h3v1h-3zM519 384h3v1h-3zM101 385h4v1h-4zM116 385h3v1h-3zM199 385h4v1h-4zM221 385h4v1h-4zM242 385h3v1h-3zM259 385h3v1h-3zM343 385h4v1h-4zM359 385h3v1h-3zM385 385h3v1h-3zM434 385h3v1h-3zM468 385h4v1h-4zM518 385h4v1h-4zM102 386h4v1h-4zM116 386h3v1h-3zM199 386h4v1h-4zM221 386h4v1h-4zM242 386h4v1h-4zM258 386h4v1h-4zM344 386h4v1h-4zM358 386h4v1h-4zM385 386h3v1h-3zM433 386h4v1h-4zM468 386h4v1h-4zM518 386h4v1h-4zM102 387h4v1h-4zM116 387h3v1h-3zM200 387h4v1h-4zM221 387h3v1h-3zM242 387h4v1h-4zM258 387h4v1h-4zM344 387h4v1h-4zM358 387h4v1h-4zM385 387h4v1h-4zM433 387h4v1h-4zM469 387h3v1h-3zM518 387h3v1h-3zM103 388h4v1h-4zM115 388h4v1h-4zM200 388h4v1h-4zM220 388h4v1h-4zM243 388h4v1h-4zM258 388h3v1h-3zM345 388h4v1h-4zM358 388h3v1h-3zM385 388h4v1h-4zM433 388h3v1h-3zM469 388h3v1h-3zM517 388h4v1h-4zM103 389h5v1h-5zM115 389h4v1h-4zM201 389h4v1h-4zM220 389h4v1h-4zM243 389h4v1h-4zM258 389h3v1h-3zM345 389h4v1h-4zM357 389h4v1h-4zM386 389h3v1h-3zM432 389h4v1h-4zM469 389h3v1h-3zM517 389h4v1h-4zM104 390h4v1h-4zM115 390h3v1h-3zM201 390h5v1h-5zM219 390h4v1h-4zM244 390h4v1h-4zM257 390h4v1h-4zM346 390h4v1h-4zM357 390h4v1h-4zM386 390h4v1h-4zM432 390h4v1h-4zM469 390h3v1h-3zM517 390h3v1h-3zM105 391h4v1h-4zM115 391h3v1h-3zM202 391h4v1h-4zM219 391h4v1h-4zM244 391h4v1h-4zM257 391h4v1h-4zM346 391h4v1h-4zM357 391h3v1h-3zM386 391h4v1h-4zM431 391h4v1h-4zM469 391h3v1h-3zM517 391h3v1h-3zM105 392h4v1h-4zM114 392h4v1h-4zM203 392h4v1h-4zM218 392h4v1h-4zM245 392h3v1h-3zM257 392h3v1h-3zM347 392h4v1h-4zM356 392h4v1h-4zM387 392h3v1h-3zM430 392h5v1h-5zM469 392h4v1h-4zM516 392h4v1h-4zM106 393h4v1h-4zM114 393h4v1h-4zM203 393h4v1h-4zM218 393h4v1h-4zM245 393h4v1h-4zM256 393h4v1h-4zM347 393h4v1h-4zM356 393h4v1h-4zM387 393h3v1h-3zM429 393h5v1h-5zM469 393h4v1h-4zM516 393h4v1h-4zM106 394h4v1h-4zM114 394h3v1h-3zM204 394h4v1h-4zM218 394h3v1h-3zM245 394h4v1h-4zM256 394h4v1h-4zM348 394h4v1h-4zM356 394h3v1h-3zM387 394h4v1h-4zM429 394h4v1h-4zM470 394h3v1h-3zM516 394h3v1h-3zM107 395h4v1h-4zM114 395h3v1h-3zM204 395h4v1h-4zM217 395h4v1h-4zM246 395h4v1h-4zM256 395h3v1h-3zM348 395h4v1h-4zM355 395h4v1h-4zM387 395h4v1h-4zM428 395h4v1h-4zM470 395h3v1h-3zM515 395h4v1h-4zM107 396h5v1h-5zM113 396h4v1h-4zM205 396h4v1h-4zM217 396h4v1h-4zM246 396h4v1h-4zM255 396h4v1h-4zM349 396h4v1h-4zM355 396h4v1h-4zM388 396h3v1h-3zM427 396h5v1h-5zM470 396h3v1h-3zM515 396h4v1h-4zM108 397h4v1h-4zM113 397h4v1h-4zM205 397h4v1h-4zM216 397h4v1h-4zM247 397h3v1h-3zM255 397h4v1h-4zM349 397h4v1h-4zM355 397h3v1h-3zM388 397h3v1h-3zM426 397h5v1h-5zM470 397h3v1h-3zM515 397h3v1h-3zM109 398h7v1h-7zM206 398h4v1h-4zM216 398h4v1h-4zM247 398h4v1h-4zM255 398h3v1h-3zM350 398h4v1h-4zM355 398h3v1h-3zM388 398h4v1h-4zM426 398h4v1h-4zM470 398h4v1h-4zM514 398h4v1h-4zM109 399h7v1h-7zM206 399h5v1h-5zM215 399h4v1h-4zM247 399h4v1h-4zM255 399h3v1h-3zM350 399h8v1h-8zM388 399h4v1h-4zM425 399h4v1h-4zM470 399h4v1h-4zM514 399h4v1h-4zM110 400h6v1h-6zM207 400h4v1h-4zM215 400h4v1h-4zM248 400h4v1h-4zM254 400h4v1h-4zM351 400h7v1h-7zM389 400h3v1h-3zM424 400h5v1h-5zM471 400h3v1h-3zM514 400h3v1h-3zM110 401h6v1h-6zM208 401h4v1h-4zM215 401h3v1h-3zM248 401h4v1h-4zM254 401h4v1h-4zM351 401h6v1h-6zM389 401h3v1h-3zM423 401h5v1h-5zM471 401h3v1h-3zM514 401h3v1h-3zM111 402h4v1h-4zM208 402h4v1h-4zM214 402h4v1h-4zM249 402h4v1h-4zM254 402h3v1h-3zM352 402h5v1h-5zM389 402h4v1h-4zM423 402h4v1h-4zM471 402h3v1h-3zM513 402h4v1h-4zM111 403h4v1h-4zM209 403h4v1h-4zM214 403h4v1h-4zM249 403h8v1h-8zM352 403h5v1h-5zM389 403h4v1h-4zM422 403h4v1h-4zM471 403h3v1h-3zM513 403h4v1h-4zM112 404h3v1h-3zM209 404h8v1h-8zM250 404h7v1h-7zM353 404h3v1h-3zM390 404h3v1h-3zM421 404h5v1h-5zM471 404h3v1h-3zM512 404h4v1h-4zM210 405h7v1h-7zM250 405h6v1h-6zM353 405h3v1h-3zM390 405h3v1h-3zM420 405h5v1h-5zM471 405h4v1h-4zM510 405h6v1h-6zM210 406h6v1h-6zM250 406h6v1h-6zM390 406h4v1h-4zM420 406h4v1h-4zM471 406h4v1h-4zM509 406h6v1h-6zM211 407h5v1h-5zM251 407h5v1h-5zM390 407h4v1h-4zM419 407h4v1h-4zM472 407h3v1h-3zM508 407h6v1h-6zM211 408h4v1h-4zM251 408h5v1h-5zM391 408h3v1h-3zM418 408h5v1h-5zM472 408h3v1h-3zM507 408h5v1h-5zM212 409h3v1h-3zM252 409h3v1h-3zM391 409h3v1h-3zM417 409h5v1h-5zM472 409h3v1h-3zM505 409h6v1h-6zM252 410h3v1h-3zM391 410h4v1h-4zM417 410h4v1h-4zM472 410h3v1h-3zM504 410h6v1h-6zM391 411h4v1h-4zM416 411h4v1h-4zM472 411h3v1h-3zM503 411h6v1h-6zM392 412h3v1h-3zM415 412h5v1h-5zM472 412h4v1h-4zM502 412h5v1h-5zM392 413h3v1h-3zM414 413h5v1h-5zM472 413h4v1h-4zM500 413h6v1h-6zM392 414h4v1h-4zM414 414h4v1h-4zM473 414h3v1h-3zM499 414h6v1h-6zM392 415h25v1h-25zM473 415h5v1h-5zM498 415h6v1h-6zM393 416h24v1h-24zM473 416h10v1h-10zM497 416h5v1h-5zM393 417h23v1h-23zM473 417h15v1h-15zM495 417h6v1h-6zM476 418h17v1h-17zM494 418h6v1h-6zM481 419h18v1h-18zM486 420h11v1h-11zM491 421h5v1h-5z"/>
<path fill="#00af00" d="M453 343h3v1h-3zM452 344h5v1h-5zM452 345h5v1h-5zM451 346h7v1h-7zM451 347h8v1h-8zM450 348h4v1h-4zM455 348h4v1h-4zM450 349h4v1h-4zM456 349h4v1h-4zM449 350h4v1h-4zM456 350h5v1h-5zM449 351h4v1h-4zM457 351h4v1h-4zM448 352h4v1h-4zM458 352h4v1h-4zM447 353h5v1h-5zM458 353h4v1h-4zM447 354h4v1h-4zM459 354h4v1h-4zM446 355h4v1h-4zM459 355h5v1h-5zM446 356h4v1h-4zM460 356h4v1h-4zM445 357h4v1h-4zM461 357h4v1h-4zM445 358h4v1h-4zM461 358h5v1h-5zM444 359h4v1h-4zM462 359h4v1h-4zM444 360h4v1h-4zM463 360h4v1h-4zM443 361h4v1h-4zM463 361h5v1h-5zM442 362h5v1h-5zM464 362h4v1h-4zM132 363h3v1h-3zM442 363h4v1h-4zM465 363h4v1h-4zM131 364h5v1h-5zM441 364h4v1h-4zM465 364h5v1h-5zM130 365h7v1h-7zM441 365h4v1h-4zM466 365h4v1h-4zM129 366h8v1h-8zM440 366h4v1h-4zM467 366h4v1h-4zM129 367h4v1h-4zM134 367h4v1h-4zM440 367h4v1h-4zM467 367h4v1h-4zM128 368h4v1h-4zM134 368h5v1h-5zM439 368h4v1h-4zM468 368h4v1h-4zM127 369h5v1h-5zM135 369h5v1h-5zM373 369h4v1h-4zM439 369h4v1h-4zM468 369h5v1h-5zM126 370h5v1h-5zM136 370h5v1h-5zM371 370h8v1h-8zM438 370h4v1h-4zM469 370h4v1h-4zM125 371h5v1h-5zM137 371h4v1h-4zM369 371h13v1h-13zM437 371h5v1h-5zM470 371h4v1h-4zM124 372h5v1h-5zM138 372h4v1h-4zM367 372h17v1h-17zM437 372h4v1h-4zM470 372h5v1h-5zM124 373h4v1h-4zM138 373h5v1h-5zM232 373h3v1h-3zM332 373h5v1h-5zM365 373h8v1h-8zM377 373h10v1h-10zM436 373h4v1h-4zM471 373h4v1h-4zM123 374h4v1h-4zM139 374h5v1h-5zM231 374h5v1h-5zM329 374h11v1h-11zM363 374h8v1h-8zM380 374h9v1h-9zM436 374h4v1h-4zM472 374h5v1h-5zM122 375h5v1h-5zM140 375h5v1h-5zM230 375h8v1h-8zM272 375h24v1h-24zM326 375h17v1h-17zM362 375h7v1h-7zM382 375h10v1h-10zM435 375h4v1h-4zM472 375h8v1h-8zM121 376h5v1h-5zM141 376h4v1h-4zM228 376h11v1h-11zM270 376h30v1h-30zM323 376h11v1h-11zM335 376h10v1h-10zM360 376h7v1h-7zM385 376h9v1h-9zM435 376h4v1h-4zM473 376h10v1h-10zM120 377h5v1h-5zM142 377h4v1h-4zM227 377h6v1h-6zM234 377h6v1h-6zM269 377h35v1h-35zM320 377h11v1h-11zM338 377h10v1h-10zM358 377h7v1h-7zM387 377h10v1h-10zM434 377h4v1h-4zM475 377h10v1h-10zM528 377h8v1h-8zM119 378h5v1h-5zM142 378h5v1h-5zM226 378h6v1h-6zM236 378h5v1h-5zM267 378h7v1h-7zM294 378h14v1h-14zM317 378h11v1h-11zM341 378h10v1h-10zM356 378h8v1h-8zM390 378h10v1h-10zM434 378h4v1h-4zM478 378h10v1h-10zM518 378h18v1h-18zM119 379h4v1h-4zM143 379h5v1h-5zM225 379h5v1h-5zM237 379h6v1h-6zM266 379h6v1h-6zM298 379h14v1h-14zM314 379h11v1h-11zM343 379h19v1h-19zM392 379h11v1h-11zM431 379h6v1h-6zM481 379h10v1h-10zM508 379h28v1h-28zM118 380h4v1h-4zM144 380h5v1h-5zM224 380h5v1h-5zM238 380h6v1h-6zM265 380h6v1h-6zM302 380h20v1h-20zM346 380h14v1h-14zM395 380h10v1h-10zM427 380h10v1h-10zM483 380h11v1h-11zM498 380h32v1h-32zM117 381h5v1h-5zM145 381h4v1h-4zM222 381h6v1h-6zM239 381h6v1h-6zM263 381h6v1h-6zM306 381h13v1h-13zM349 381h9v1h-9zM398 381h10v1h-10zM423 381h13v1h-13zM486 381h34v1h-34zM116 382h5v1h-5zM146 382h4v1h-4zM221 382h6v1h-6zM241 382h5v1h-5zM262 382h6v1h-6zM310 382h6v1h-6zM352 382h4v1h-4zM401 382h10v1h-10zM419 382h14v1h-14zM489 382h21v1h-21zM115 383h5v1h-5zM146 383h5v1h-5zM220 383h6v1h-6zM242 383h6v1h-6zM260 383h7v1h-7zM403 383h11v1h-11zM415 383h14v1h-14zM492 383h8v1h-8zM114 384h5v1h-5zM147 384h5v1h-5zM170 384h7v1h-7zM219 384h5v1h-5zM243 384h6v1h-6zM259 384h6v1h-6zM406 384h19v1h-19zM92 385h7v1h-7zM114 385h4v1h-4zM148 385h5v1h-5zM165 385h17v1h-17zM218 385h5v1h-5zM244 385h6v1h-6zM257 385h7v1h-7zM409 385h12v1h-12zM92 386h17v1h-17zM113 386h4v1h-4zM149 386h4v1h-4zM160 386h27v1h-27zM217 386h5v1h-5zM246 386h5v1h-5zM256 386h6v1h-6zM412 386h5v1h-5zM92 387h25v1h-25zM150 387h4v1h-4zM155 387h17v1h-17zM175 387h17v1h-17zM215 387h6v1h-6zM247 387h6v1h-6zM255 387h6v1h-6zM97 388h19v1h-19zM150 388h17v1h-17zM180 388h19v1h-19zM214 388h6v1h-6zM248 388h11v1h-11zM107 389h8v1h-8zM151 389h11v1h-11zM185 389h24v1h-24zM213 389h6v1h-6zM249 389h9v1h-9zM152 390h5v1h-5zM190 390h27v1h-27zM251 390h6v1h-6zM197 391h19v1h-19zM252 391h3v1h-3zM207 392h8v1h-8z"/>
<path fill="#0000c8" d="M132 376h3v1h-3zM473 376h4v1h-4zM130 377h6v1h-6zM471 377h9v1h-9zM129 378h9v1h-9zM232 378h3v1h-3zM469 378h14v1h-14zM128 379h11v1h-11zM230 379h6v1h-6zM468 379h17v1h-17zM126 380h6v1h-6zM134 380h6v1h-6zM229 380h9v1h-9zM466 380h7v1h-7zM478 380h10v1h-10zM125 381h6v1h-6zM136 381h5v1h-5zM228 381h11v1h-11zM464 381h7v1h-7zM481 381h10v1h-10zM528 381h8v1h-8zM124 382h6v1h-6zM137 382h6v1h-6zM226 382h6v1h-6zM234 382h6v1h-6zM272 382h7v1h-7zM463 382h7v1h-7zM483 382h11v1h-11zM518 382h18v1h-18zM122 383h6v1h-6zM138 383h6v1h-6zM225 383h6v1h-6zM236 383h6v1h-6zM270 383h19v1h-19zM461 383h7v1h-7zM486 383h50v1h-50zM121 384h6v1h-6zM139 384h6v1h-6zM224 384h6v1h-6zM237 384h6v1h-6zM268 384h30v1h-30zM459 384h7v1h-7zM489 384h41v1h-41zM120 385h6v1h-6zM141 385h5v1h-5zM222 385h6v1h-6zM238 385h6v1h-6zM266 385h8v1h-8zM277 385h27v1h-27zM371 385h8v1h-8zM458 385h7v1h-7zM492 385h28v1h-28zM118 386h6v1h-6zM142 386h6v1h-6zM221 386h6v1h-6zM240 386h6v1h-6zM264 386h8v1h-8zM287 386h24v1h-24zM366 386h19v1h-19zM456 386h7v1h-7zM117 387h6v1h-6zM143 387h6v1h-6zM170 387h6v1h-6zM220 387h6v1h-6zM241 387h6v1h-6zM262 387h8v1h-8zM296 387h29v1h-29zM361 387h31v1h-31zM454 387h7v1h-7zM116 388h6v1h-6zM144 388h6v1h-6zM166 388h14v1h-14zM218 388h6v1h-6zM242 388h6v1h-6zM261 388h7v1h-7zM302 388h43v1h-43zM356 388h17v1h-17zM377 388h20v1h-20zM443 388h17v1h-17zM114 389h6v1h-6zM146 389h5v1h-5zM162 389h22v1h-22zM217 389h6v1h-6zM244 389h6v1h-6zM259 389h7v1h-7zM309 389h59v1h-59zM383 389h17v1h-17zM432 389h26v1h-26zM113 390h6v1h-6zM147 390h6v1h-6zM158 390h14v1h-14zM174 390h14v1h-14zM216 390h6v1h-6zM245 390h6v1h-6zM257 390h7v1h-7zM323 390h40v1h-40zM390 390h13v1h-13zM428 390h28v1h-28zM92 391h26v1h-26zM148 391h20v1h-20zM178 391h14v1h-14zM214 391h6v1h-6zM246 391h6v1h-6zM255 391h8v1h-8zM343 391h15v1h-15zM395 391h10v1h-10zM425 391h20v1h-20zM92 392h24v1h-24zM149 392h15v1h-15zM182 392h22v1h-22zM213 392h6v1h-6zM248 392h13v1h-13zM398 392h10v1h-10zM422 392h12v1h-12zM92 393h23v1h-23zM151 393h9v1h-9zM186 393h32v1h-32zM249 393h10v1h-10zM401 393h10v1h-10zM418 393h12v1h-12zM152 394h4v1h-4zM190 394h26v1h-26zM250 394h7v1h-7zM403 394h11v1h-11zM415 394h12v1h-12zM202 395h13v1h-13zM252 395h3v1h-3zM406 395h18v1h-18zM409 396h11v1h-11zM412 397h5v1h-5z"/>
<path fill="#c800c8" d="M453 350h3v1h-3zM453 351h3v1h-3zM452 352h5v1h-5zM452 353h5v1h-5zM451 354h7v1h-7zM451 355h7v1h-7zM450 356h4v1h-4zM455 356h4v1h-4zM450 357h4v1h-4zM455 357h4v1h-4zM449 358h4v1h-4zM456 358h4v1h-4zM449 359h4v1h-4zM456 359h4v1h-4zM448 360h4v1h-4zM457 360h3v1h-3zM448 361h4v1h-4zM457 361h4v1h-4zM447 362h4v1h-4zM457 362h4v1h-4zM447 363h4v1h-4zM458 363h4v1h-4zM446 364h4v1h-4zM458 364h4v1h-4zM446 365h4v1h-4zM459 365h4v1h-4zM445 366h4v1h-4zM459 366h4v1h-4zM445 367h4v1h-4zM460 367h4v1h-4zM444 368h4v1h-4zM460 368h4v1h-4zM444 369h4v1h-4zM461 369h3v1h-3zM443 370h4v1h-4zM461 370h4v1h-4zM443 371h4v1h-4zM461 371h4v1h-4zM443 372h3v1h-3zM462 372h4v1h-4zM442 373h4v1h-4zM462 373h4v1h-4zM442 374h4v1h-4zM463 374h4v1h-4zM441 375h4v1h-4zM463 375h4v1h-4zM441 376h4v1h-4zM464 376h4v1h-4zM440 377h4v1h-4zM464 377h4v1h-4zM440 378h4v1h-4zM465 378h3v1h-3zM439 379h4v1h-4zM465 379h4v1h-4zM439 380h4v1h-4zM465 380h4v1h-4zM438 381h4v1h-4zM466 381h4v1h-4zM438 382h4v1h-4zM466 382h4v1h-4zM437 383h4v1h-4zM467 383h4v1h-4zM437 384h4v1h-4zM467 384h4v1h-4zM436 385h4v1h-4zM468 385h4v1h-4zM436 386h4v1h-4zM468 386h4v1h-4zM351 387h26v1h-26zM435 387h4v1h-4zM469 387h3v1h-3zM346 388h35v1h-35zM435 388h4v1h-4zM469 388h4v1h-4zM341 389h44v1h-44zM434 389h4v1h-4zM469 389h4v1h-4zM271 390h8v1h-8zM336 390h17v1h-17zM375 390h14v1h-14zM434 390h4v1h-4zM470 390h4v1h-4zM269 391h20v1h-20zM302 391h46v1h-46zM379 391h14v1h-14zM433 391h4v1h-4zM470 391h4v1h-4zM266 392h77v1h-77zM383 392h17v1h-17zM428 392h9v1h-9zM471 392h4v1h-4zM171 393h5v1h-5zM264 393h9v1h-9zM277 393h61v1h-61zM387 393h23v1h-23zM418 393h18v1h-18zM471 393h4v1h-4zM168 394h10v1h-10zM261 394h10v1h-10zM287 394h17v1h-17zM391 394h45v1h-45zM472 394h4v1h-4zM528 394h8v1h-8zM131 395h5v1h-5zM165 395h16v1h-16zM259 395h9v1h-9zM398 395h32v1h-32zM472 395h13v1h-13zM518 395h18v1h-18zM92 396h4v1h-4zM128 396h12v1h-12zM162 396h11v1h-11zM174 396h9v1h-9zM227 396h12v1h-12zM256 396h10v1h-10zM408 396h12v1h-12zM473 396h63v1h-63zM92 397h7v1h-7zM125 397h19v1h-19zM160 397h10v1h-10zM176 397h10v1h-10zM217 397h32v1h-32zM254 397h9v1h-9zM473 397h57v1h-57zM92 398h11v1h-11zM122 398h11v1h-11zM134 398h14v1h-14zM157 398h10v1h-10zM179 398h9v1h-9zM209 398h52v1h-52zM483 398h37v1h-37zM94 399h12v1h-12zM120 399h10v1h-10zM138 399h14v1h-14zM154 399h10v1h-10zM181 399h10v1h-10zM202 399h27v1h-27zM237 399h21v1h-21zM97 400h12v1h-12zM117 400h10v1h-10zM142 400h20v1h-20zM184 400h9v1h-9zM196 400h23v1h-23zM247 400h9v1h-9zM101 401h12v1h-12zM114 401h10v1h-10zM146 401h13v1h-13zM186 401h25v1h-25zM104 402h18v1h-18zM150 402h6v1h-6zM189 402h15v1h-15zM107 403h12v1h-12zM191 403h7v1h-7zM111 404h5v1h-5z"/>
<path fill="#fa7d7d" d="M350 401h9v1h-9zM343 402h22v1h-22zM337 403h35v1h-35zM452 403h8v1h-8zM170 404h6v1h-6zM330 404h22v1h-22zM357 404h23v1h-23zM448 404h22v1h-22zM528 404h8v1h-8zM166 405h14v1h-14zM271 405h13v1h-13zM323 405h22v1h-22zM363 405h27v1h-27zM403 405h15v1h-15zM445 405h35v1h-35zM518 405h18v1h-18zM130 406h8v1h-8zM162 406h22v1h-22zM267 406h37v1h-37zM316 406h23v1h-23zM370 406h53v1h-53zM442 406h12v1h-12zM458 406h32v1h-32zM503 406h33v1h-33zM125 407h19v1h-19zM158 407h14v1h-14zM174 407h14v1h-14zM230 407h7v1h-7zM264 407h68v1h-68zM378 407h50v1h-50zM438 407h12v1h-12zM468 407h62v1h-62zM120 408h31v1h-31zM154 408h14v1h-14zM178 408h14v1h-14zM225 408h17v1h-17zM261 408h12v1h-12zM282 408h43v1h-43zM388 408h17v1h-17zM416 408h17v1h-17zM435 408h12v1h-12zM478 408h42v1h-42zM115 409h17v1h-17zM136 409h28v1h-28zM182 409h17v1h-17zM220 409h27v1h-27zM257 409h12v1h-12zM302 409h16v1h-16zM421 409h23v1h-23zM488 409h17v1h-17zM102 410h25v1h-25zM142 410h18v1h-18zM186 410h23v1h-23zM215 410h17v1h-17zM235 410h17v1h-17zM254 410h12v1h-12zM426 410h14v1h-14zM92 411h30v1h-30zM149 411h7v1h-7zM190 411h37v1h-37zM240 411h23v1h-23zM431 411h6v1h-6zM92 412h25v1h-25zM197 412h25v1h-25zM245 412h14v1h-14zM92 413h12v1h-12zM207 413h10v1h-10zM250 413h6v1h-6z"/>
<path fill="#fa7d00" d="M232 399h3v1h-3zM132 400h3v1h-3zM230 400h7v1h-7zM130 401h7v1h-7zM228 401h11v1h-11zM371 401h6v1h-6zM128 402h11v1h-11zM227 402h13v1h-13zM367 402h12v1h-12zM127 403h14v1h-14zM225 403h7v1h-7zM235 403h7v1h-7zM363 403h19v1h-19zM125 404h7v1h-7zM135 404h8v1h-8zM223 404h7v1h-7zM237 404h7v1h-7zM287 404h17v1h-17zM359 404h14v1h-14zM375 404h9v1h-9zM123 405h7v1h-7zM137 405h8v1h-8zM222 405h7v1h-7zM238 405h7v1h-7zM277 405h48v1h-48zM355 405h14v1h-14zM377 405h10v1h-10zM532 405h4v1h-4zM122 406h7v1h-7zM139 406h8v1h-8zM220 406h7v1h-7zM240 406h7v1h-7zM270 406h95v1h-95zM380 406h9v1h-9zM468 406h10v1h-10zM528 406h8v1h-8zM92 407h4v1h-4zM120 407h7v1h-7zM141 407h8v1h-8zM218 407h7v1h-7zM242 407h7v1h-7zM266 407h23v1h-23zM302 407h59v1h-59zM382 407h10v1h-10zM458 407h25v1h-25zM525 407h11v1h-11zM92 408h8v1h-8zM118 408h7v1h-7zM143 408h8v1h-8zM217 408h7v1h-7zM243 408h7v1h-7zM262 408h17v1h-17zM323 408h34v1h-34zM385 408h9v1h-9zM403 408h85v1h-85zM522 408h12v1h-12zM92 409h12v1h-12zM117 409h7v1h-7zM145 409h8v1h-8zM187 409h12v1h-12zM215 409h7v1h-7zM245 409h7v1h-7zM258 409h14v1h-14zM387 409h83v1h-83zM476 409h17v1h-17zM518 409h12v1h-12zM94 410h14v1h-14zM115 410h7v1h-7zM147 410h17v1h-17zM177 410h32v1h-32zM213 410h7v1h-7zM247 410h21v1h-21zM390 410h70v1h-70zM481 410h24v1h-24zM515 410h12v1h-12zM98 411h14v1h-14zM113 411h7v1h-7zM149 411h70v1h-70zM248 411h16v1h-16zM392 411h13v1h-13zM486 411h38v1h-38zM102 412h17v1h-17zM151 412h38v1h-38zM197 412h20v1h-20zM250 412h10v1h-10zM491 412h29v1h-29zM106 413h11v1h-11zM162 413h17v1h-17zM207 413h8v1h-8zM252 413h4v1h-4zM503 413h14v1h-14zM110 414h5v1h-5z"/>
<path fill="#c87d7d" d="M272 401h4v1h-4zM270 402h8v1h-8zM268 403h13v1h-13zM266 404h17v1h-17zM372 404h6v1h-6zM264 405h8v1h-8zM276 405h10v1h-10zM369 405h14v1h-14zM262 406h8v1h-8zM279 406h9v1h-9zM366 406h22v1h-22zM261 407h7v1h-7zM281 407h10v1h-10zM363 407h11v1h-11zM376 407h17v1h-17zM451 407h29v1h-29zM92 408h5v1h-5zM130 408h6v1h-6zM259 408h7v1h-7zM284 408h9v1h-9zM361 408h10v1h-10zM381 408h19v1h-19zM446 408h44v1h-44zM92 409h10v1h-10zM125 409h15v1h-15zM257 409h7v1h-7zM286 409h13v1h-13zM328 409h12v1h-12zM358 409h10v1h-10zM386 409h24v1h-24zM441 409h64v1h-64zM523 409h13v1h-13zM92 410h15v1h-15zM120 410h24v1h-24zM255 410h8v1h-8zM289 410h20v1h-20zM318 410h32v1h-32zM355 410h10v1h-10zM391 410h34v1h-34zM436 410h17v1h-17zM478 410h58v1h-58zM95 411h17v1h-17zM115 411h17v1h-17zM134 411h14v1h-14zM253 411h8v1h-8zM291 411h72v1h-72zM398 411h50v1h-50zM488 411h48v1h-48zM100 412h27v1h-27zM138 412h14v1h-14zM242 412h17v1h-17zM297 412h33v1h-33zM338 412h22v1h-22zM408 412h35v1h-35zM503 412h22v1h-22zM105 413h17v1h-17zM142 413h22v1h-22zM222 413h35v1h-35zM307 413h13v1h-13zM348 413h9v1h-9zM423 413h15v1h-15zM110 414h7v1h-7zM146 414h109v1h-109zM150 415h94v1h-94zM162 416h62v1h-62z"/>
<path fill="#7d7d00" d="M453 42h3v1h-3zM453 43h3v1h-3zM453 44h3v1h-3zM453 45h3v1h-3zM453 46h3v1h-3zM453 47h4v1h-4zM452 48h5v1h-5zM452 49h5v1h-5zM452 50h5v1h-5zM452 51h5v1h-5zM452 52h5v1h-5zM452 53h5v1h-5zM452 54h5v1h-5zM452 55h5v1h-5zM452 56h5v1h-5zM452 57h6v1h-6zM451 58h7v1h-7zM451 59h7v1h-7zM451 60h3v1h-3zM455 60h3v1h-3zM451 61h3v1h-3zM455 61h3v1h-3zM451 62h3v1h-3zM455 62h3v1h-3zM451 63h3v1h-3zM455 63h3v1h-3zM451 64h3v1h-3zM455 64h3v1h-3zM451 65h3v1h-3zM455 65h3v1h-3zM451 66h3v1h-3zM455 66h3v1h-3zM451 67h3v1h-3zM455 67h4v1h-4zM450 68h4v1h-4zM455 68h4v1h-4zM450 69h4v1h-4zM456 69h3v1h-3zM450 70h3v1h-3zM456 70h3v1h-3zM450 71h3v1h-3zM456 71h3v1h-3zM450 72h3v1h-3zM456 72h3v1h-3zM450 73h3v1h-3zM456 73h3v1h-3zM450 74h3v1h-3zM456 74h3v1h-3zM450 75h3v1h-3zM456 75h3v1h-3zM450 76h3v1h-3zM456 76h3v1h-3zM450 77h3v1h-3zM456 77h4v1h-4zM449 78h4v1h-4zM456 78h4v1h-4zM449 79h4v1h-4zM457 79h3v1h-3zM449 80h3v1h-3zM457 80h3v1h-3zM449 81h3v1h-3zM457 81h3v1h-3zM449 82h3v1h-3zM457 82h3v1h-3zM449 83h3v1h-3zM457 83h3v1h-3zM449 84h3v1h-3zM457 84h3v1h-3zM449 85h3v1h-3zM457 85h3v1h-3zM449 86h3v1h-3zM457 86h3v1h-3zM449 87h3v1h-3zM457 87h4v1h-4zM448 88h4v1h-4zM457 88h4v1h-4zM448 89h4v1h-4zM458 89h3v1h-3zM448 90h3v1h-3zM458 90h3v1h-3zM448 91h3v1h-3zM458 91h3v1h-3zM448 92h3v1h-3zM458 92h3v1h-3zM448 93h3v1h-3zM458 93h3v1h-3zM448 94h3v1h-3zM458 94h3v1h-3zM448 95h3v1h-3zM458 95h3v1h-3zM448 96h3v1h-3zM458 96h3v1h-3zM448 97h3v1h-3zM458 97h4v1h-4zM447 98h4v1h-4zM458 98h4v1h-4zM447 99h4v1h-4zM459 99h3v1h-3zM447 100h3v1h-3zM459 100h3v1h-3zM447 101h3v1h-3zM459 101h3v1h-3zM447 102h3v1h-3zM459 102h3v1h-3zM447 103h3v1h-3zM459 103h3v1h-3zM447 104h3v1h-3zM459 104h3v1h-3zM447 105h3v1h-3zM459 105h3v1h-3zM447 106h3v1h-3zM459 106h3v1h-3zM447 107h3v1h-3zM459 107h4v1h-4zM446 108h4v1h-4zM459 108h4v1h-4zM446 109h4v1h-4zM460 109h3v1h-3zM446 110h3v1h-3zM460 110h3v1h-3zM446 111h3v1h-3zM460 111h3v1h-3zM446 112h3v1h-3zM460 112h3v1h-3zM446 113h3v1h-3zM460 113h3v1h-3zM446 114h3v1h-3zM460 114h3v1h-3zM446 115h3v1h-3zM460 115h3v1h-3zM446 116h3v1h-3zM460 116h3v1h-3zM446 117h3v1h-3zM460 117h4v1h-4zM445 118h4v1h-4zM460 118h4v1h-4zM445 119h4v1h-4zM461 119h3v1h-3zM445 120h3v1h-3zM461 120h3v1h-3zM445 121h3v1h-3zM461 121h3v1h-3zM445 122h3v1h-3zM461 122h3v1h-3zM445 123h3v1h-3zM461 123h3v1h-3zM445 124h3v1h-3zM461 124h3v1h-3zM445 125h3v1h-3zM461 125h3v1h-3zM445 126h3v1h-3zM461 126h3v1h-3zM445 127h3v1h-3zM461 127h4v1h-4zM444 128h4v1h-4zM461 128h4v1h-4zM444 129h4v1h-4zM462 129h3v1h-3zM444 130h3v1h-3zM462 130h3v1h-3zM444 131h3v1h-3zM462 131h3v1h-3zM444 132h3v1h-3zM462 132h3v1h-3zM132 133h3v1h-3zM444 133h3v1h-3zM462 133h3v1h-3zM132 134h3v1h-3zM444 134h3v1h-3zM462 134h3v1h-3zM132 135h3v1h-3zM444 135h3v1h-3zM462 135h3v1h-3zM132 136h3v1h-3zM444 136h3v1h-3zM462 136h3v1h-3zM131 137h5v1h-5zM444 137h3v1h-3zM462 137h4v1h-4zM131 138h5v1h-5zM443 138h4v1h-4zM462 138h4v1h-4zM131 139h5v1h-5zM443 139h4v1h-4zM463 139h3v1h-3zM131 140h5v1h-5zM443 140h3v1h-3zM463 140h3v1h-3zM131 141h5v1h-5zM443 141h3v1h-3zM463 141h3v1h-3zM131 142h5v1h-5zM443 142h3v1h-3zM463 142h3v1h-3zM131 143h6v1h-6zM443 143h3v1h-3zM463 143h3v1h-3zM131 144h6v1h-6zM443 144h3v1h-3zM463 144h3v1h-3zM130 145h7v1h-7zM443 145h3v1h-3zM463 145h3v1h-3zM130 146h7v1h-7zM443 146h3v1h-3zM463 146h3v1h-3zM130 147h3v1h-3zM134 147h3v1h-3zM443 147h3v1h-3zM463 147h4v1h-4zM130 148h3v1h-3zM134 148h3v1h-3zM443 148h3v1h-3zM463 148h4v1h-4zM130 149h3v1h-3zM134 149h4v1h-4zM442 149h4v1h-4zM464 149h3v1h-3zM130 150h3v1h-3zM134 150h4v1h-4zM442 150h4v1h-4zM464 150h3v1h-3zM130 151h3v1h-3zM135 151h3v1h-3zM442 151h3v1h-3zM464 151h3v1h-3zM129 152h4v1h-4zM135 152h3v1h-3zM442 152h3v1h-3zM464 152h3v1h-3zM129 153h4v1h-4zM135 153h3v1h-3zM373 153h3v1h-3zM442 153h3v1h-3zM464 153h3v1h-3zM129 154h3v1h-3zM135 154h3v1h-3zM373 154h3v1h-3zM442 154h3v1h-3zM464 154h3v1h-3zM129 155h3v1h-3zM135 155h4v1h-4zM373 155h3v1h-3zM442 155h3v1h-3zM464 155h3v1h-3zM129 156h3v1h-3zM135 156h4v1h-4zM372 156h5v1h-5zM442 156h3v1h-3zM464 156h3v1h-3zM129 157h3v1h-3zM136 157h3v1h-3zM372 157h5v1h-5zM442 157h3v1h-3zM464 157h4v1h-4zM129 158h3v1h-3zM136 158h3v1h-3zM372 158h5v1h-5zM442 158h3v1h-3zM464 158h4v1h-4zM129 159h3v1h-3zM136 159h3v1h-3zM372 159h5v1h-5zM441 159h4v1h-4zM465 159h3v1h-3zM128 160h4v1h-4zM136 160h3v1h-3zM371 160h6v1h-6zM441 160h4v1h-4zM465 160h3v1h-3zM128 161h4v1h-4zM136 161h4v1h-4zM371 161h6v1h-6zM441 161h3v1h-3zM465 161h3v1h-3zM128 162h3v1h-3zM136 162h4v1h-4zM371 162h7v1h-7zM441 162h3v1h-3zM465 162h3v1h-3zM128 163h3v1h-3zM137 163h3v1h-3zM272 163h3v1h-3zM371 163h7v1h-7zM441 163h3v1h-3zM465 163h3v1h-3zM128 164h3v1h-3zM137 164h3v1h-3zM272 164h4v1h-4zM370 164h4v1h-4zM375 164h3v1h-3zM441 164h3v1h-3zM465 164h3v1h-3zM128 165h3v1h-3zM137 165h3v1h-3zM272 165h5v1h-5zM370 165h4v1h-4zM375 165h3v1h-3zM441 165h3v1h-3zM465 165h3v1h-3zM128 166h3v1h-3zM137 166h3v1h-3zM272 166h7v1h-7zM370 166h3v1h-3zM375 166h3v1h-3zM441 166h3v1h-3zM465 166h3v1h-3zM127 167h4v1h-4zM137 167h4v1h-4zM271 167h9v1h-9zM370 167h3v1h-3zM375 167h4v1h-4zM441 167h3v1h-3zM465 167h4v1h-4zM127 168h4v1h-4zM137 168h4v1h-4zM271 168h10v1h-10zM370 168h3v1h-3zM375 168h4v1h-4zM441 168h3v1h-3zM465 168h4v1h-4zM127 169h3v1h-3zM138 169h3v1h-3zM271 169h3v1h-3zM277 169h5v1h-5zM369 169h4v1h-4zM376 169h3v1h-3zM440 169h4v1h-4zM466 169h3v1h-3zM127 170h3v1h-3zM138 170h3v1h-3zM271 170h3v1h-3zM278 170h5v1h-5zM369 170h4v1h-4zM376 170h3v1h-3zM440 170h4v1h-4zM466 170h3v1h-3zM127 171h3v1h-3zM138 171h3v1h-3zM271 171h3v1h-3zM279 171h5v1h-5zM369 171h3v1h-3zM376 171h3v1h-3zM440 171h3v1h-3zM466 171h3v1h-3zM127 172h3v1h-3zM138 172h3v1h-3zM271 172h3v1h-3zM280 172h6v1h-6zM369 172h3v1h-3zM376 172h3v1h-3zM440 172h3v1h-3zM466 172h3v1h-3zM127 173h3v1h-3zM138 173h4v1h-4zM271 173h3v1h-3zM281 173h6v1h-6zM368 173h4v1h-4zM376 173h4v1h-4zM440 173h3v1h-3zM466 173h3v1h-3zM127 174h3v1h-3zM138 174h4v1h-4zM270 174h4v1h-4zM282 174h6v1h-6zM368 174h4v1h-4zM376 174h4v1h-4zM440 174h3v1h-3zM466 174h3v1h-3zM126 175h4v1h-4zM139 175h3v1h-3zM270 175h4v1h-4zM284 175h5v1h-5zM368 175h3v1h-3zM377 175h3v1h-3zM440 175h3v1h-3zM466 175h3v1h-3zM533 175h3v1h-3zM126 176h4v1h-4zM139 176h3v1h-3zM270 176h3v1h-3zM285 176h5v1h-5zM368 176h3v1h-3zM377 176h3v1h-3zM440 176h3v1h-3zM466 176h3v1h-3zM533 176h3v1h-3zM126 177h3v1h-3zM139 177h3v1h-3zM270 177h3v1h-3zM286 177h6v1h-6zM367 177h4v1h-4zM377 177h3v1h-3zM440 177h3v1h-3zM466 177h4v1h-4zM533 177h3v1h-3zM126 178h3v1h-3zM139 178h3v1h-3zM270 178h3v1h-3zM287 178h6v1h-6zM367 178h4v1h-4zM377 178h4v1h-4zM440 178h3v1h-3zM466 178h4v1h-4zM532 178h4v1h-4zM126 179h3v1h-3zM139 179h4v1h-4zM270 179h3v1h-3zM288 179h6v1h-6zM367 179h3v1h-3zM377 179h4v1h-4zM439 179h4v1h-4zM467 179h3v1h-3zM532 179h4v1h-4zM126 180h3v1h-3zM139 180h4v1h-4zM270 180h3v1h-3zM290 180h5v1h-5zM367 180h3v1h-3zM378 180h3v1h-3zM439 180h4v1h-4zM467 180h3v1h-3zM532 180h3v1h-3zM126 181h3v1h-3zM140 181h3v1h-3zM269 181h4v1h-4zM291 181h5v1h-5zM366 181h4v1h-4zM378 181h3v1h-3zM439 181h3v1h-3zM467 181h3v1h-3zM532 181h3v1h-3zM126 182h3v1h-3zM140 182h3v1h-3zM269 182h4v1h-4zM292 182h5v1h-5zM366 182h4v1h-4zM378 182h3v1h-3zM439 182h3v1h-3zM467 182h3v1h-3zM531 182h4v1h-4zM125 183h4v1h-4zM140 183h3v1h-3zM269 183h3v1h-3zM293 183h4v1h-4zM366 183h3v1h-3zM378 183h3v1h-3zM439 183h3v1h-3zM467 183h3v1h-3zM531 183h4v1h-4zM125 184h4v1h-4zM140 184h3v1h-3zM269 184h3v1h-3zM294 184h4v1h-4zM366 184h3v1h-3zM378 184h4v1h-4zM439 184h3v1h-3zM467 184h3v1h-3zM531 184h3v1h-3zM125 185h3v1h-3zM140 185h4v1h-4zM269 185h3v1h-3zM294 185h5v1h-5zM366 185h3v1h-3zM378 185h4v1h-4zM439 185h3v1h-3zM467 185h3v1h-3zM531 185h3v1h-3zM125 186h3v1h-3zM140 186h4v1h-4zM269 186h3v1h-3zM295 186h5v1h-5zM365 186h4v1h-4zM379 186h3v1h-3zM439 186h3v1h-3zM467 186h3v1h-3zM530 186h4v1h-4zM125 187h3v1h-3zM141 187h3v1h-3zM269 187h3v1h-3zM296 187h4v1h-4zM365 187h4v1h-4zM379 187h3v1h-3zM439 187h3v1h-3zM467 187h4v1h-4zM530 187h4v1h-4zM125 188h3v1h-3zM141 188h3v1h-3zM268 188h4v1h-4zM297 188h4v1h-4zM365 188h3v1h-3zM379 188h3v1h-3zM439 188h3v1h-3zM467 188h4v1h-4zM530 188h3v1h-3zM125 189h3v1h-3zM141 189h3v1h-3zM268 189h4v1h-4zM297 189h5v1h-5zM365 189h3v1h-3zM379 189h4v1h-4zM438 189h4v1h-4zM468 189h3v1h-3zM530 189h3v1h-3zM124 190h4v1h-4zM141 190h3v1h-3zM268 190h3v1h-3zM298 190h5v1h-5zM364 190h4v1h-4zM379 190h4v1h-4zM438 190h4v1h-4zM468 190h3v1h-3zM529 190h4v1h-4zM124 191h4v1h-4zM141 191h4v1h-4zM268 191h3v1h-3zM299 191h4v1h-4zM364 191h4v1h-4zM380 191h3v1h-3zM438 191h3v1h-3zM468 191h3v1h-3zM529 191h4v1h-4zM124 192h3v1h-3zM141 192h4v1h-4zM268 192h3v1h-3zM300 192h4v1h-4zM364 192h3v1h-3zM380 192h3v1h-3zM438 192h3v1h-3zM468 192h3v1h-3zM529 192h3v1h-3zM124 193h3v1h-3zM142 193h3v1h-3zM268 193h3v1h-3zM300 193h5v1h-5zM364 193h3v1h-3zM380 193h3v1h-3zM438 193h3v1h-3zM468 193h3v1h-3zM529 193h3v1h-3zM124 194h3v1h-3zM142 194h3v1h-3zM268 194h3v1h-3zM301 194h5v1h-5zM363 194h4v1h-4zM380 194h3v1h-3zM438 194h3v1h-3zM468 194h3v1h-3zM528 194h4v1h-4zM124 195h3v1h-3zM142 195h3v1h-3zM267 195h4v1h-4zM302 195h5v1h-5zM363 195h4v1h-4zM380 195h4v1h-4zM438 195h3v1h-3zM468 195h3v1h-3zM528 195h4v1h-4zM124 196h3v1h-3zM142 196h3v1h-3zM267 196h4v1h-4zM303 196h4v1h-4zM363 196h3v1h-3zM380 196h4v1h-4zM438 196h3v1h-3zM468 196h3v1h-3zM528 196h3v1h-3zM124 197h3v1h-3zM142 197h4v1h-4zM267 197h3v1h-3zM304 197h4v1h-4zM363 197h3v1h-3zM381 197h3v1h-3zM438 197h3v1h-3zM468 197h4v1h-4zM528 197h3v1h-3zM123 198h4v1h-4zM142 198h4v1h-4zM267 198h3v1h-3zM304 198h5v1h-5zM363 198h3v1h-3zM381 198h3v1h-3zM438 198h3v1h-3zM468 198h4v1h-4zM528 198h3v1h-3zM123 199h4v1h-4zM143 199h3v1h-3zM267 199h3v1h-3zM305 199h5v1h-5zM362 199h4v1h-4zM381 199h3v1h-3zM437 199h4v1h-4zM469 199h3v1h-3zM527 199h4v1h-4zM123 200h3v1h-3zM143 200h3v1h-3zM232 200h3v1h-3zM267 200h3v1h-3zM306 200h4v1h-4zM362 200h4v1h-4zM381 200h4v1h-4zM437 200h4v1h-4zM469 200h3v1h-3zM527 200h4v1h-4zM123 201h3v1h-3zM143 201h3v1h-3zM232 201h3v1h-3zM266 201h4v1h-4zM307 201h4v1h-4zM362 201h3v1h-3zM381 201h4v1h-4zM437 201h3v1h-3zM469 201h3v1h-3zM527 201h3v1h-3zM123 202h3v1h-3zM143 202h3v1h-3zM232 202h3v1h-3zM266 202h4v1h-4zM307 202h5v1h-5zM331 202h5v1h-5zM362 202h3v1h-3zM382 202h3v1h-3zM437 202h3v1h-3zM469 202h3v1h-3zM527 202h3v1h-3zM123 203h3v1h-3zM143 203h4v1h-4zM231 203h5v1h-5zM266 203h3v1h-3zM308 203h5v1h-5zM326 203h11v1h-11zM361 203h4v1h-4zM382 203h3v1h-3zM437 203h3v1h-3zM469 203h3v1h-3zM526 203h4v1h-4zM123 204h3v1h-3zM143 204h4v1h-4zM231 204h5v1h-5zM266 204h3v1h-3zM309 204h4v1h-4zM320 204h17v1h-17zM361 204h4v1h-4zM382 204h3v1h-3zM437 204h3v1h-3zM469 204h3v1h-3zM526 204h4v1h-4zM122 205h4v1h-4zM144 205h3v1h-3zM231 205h5v1h-5zM266 205h3v1h-3zM310 205h4v1h-4zM315 205h18v1h-18zM334 205h4v1h-4zM361 205h3v1h-3zM382 205h3v1h-3zM437 205h3v1h-3zM469 205h3v1h-3zM526 205h3v1h-3zM122 206h4v1h-4zM144 206h3v1h-3zM231 206h5v1h-5zM266 206h3v1h-3zM310 206h18v1h-18zM334 206h4v1h-4zM361 206h3v1h-3zM382 206h4v1h-4zM437 206h3v1h-3zM469 206h3v1h-3zM526 206h3v1h-3zM122 207h3v1h-3zM144 207h3v1h-3zM231 207h5v1h-5zM266 207h3v1h-3zM311 207h11v1h-11zM335 207h4v1h-4zM360 207h4v1h-4zM382 207h4v1h-4zM437 207h3v1h-3zM469 207h4v1h-4zM525 207h4v1h-4zM122 208h3v1h-3zM144 208h3v1h-3zM230 208h7v1h-7zM265 208h4v1h-4zM312 208h5v1h-5zM335 208h4v1h-4zM360 208h4v1h-4zM383 208h3v1h-3zM437 208h3v1h-3zM469 208h4v1h-4zM525 208h4v1h-4zM122 209h3v1h-3zM144 209h4v1h-4zM230 209h7v1h-7zM265 209h4v1h-4zM336 209h4v1h-4zM360 209h3v1h-3zM383 209h3v1h-3zM436 209h4v1h-4zM470 209h3v1h-3zM525 209h3v1h-3zM122 210h3v1h-3zM144 210h4v1h-4zM230 210h3v1h-3zM234 210h3v1h-3zM265 210h3v1h-3zM336 210h4v1h-4zM360 210h3v1h-3zM383 210h3v1h-3zM436 210h4v1h-4zM470 210h3v1h-3zM525 210h3v1h-3zM122 211h3v1h-3zM145 211h3v1h-3zM230 211h3v1h-3zM234 211h3v1h-3zM265 211h3v1h-3zM337 211h4v1h-4zM360 211h3v1h-3zM383 211h4v1h-4zM436 211h3v1h-3zM470 211h3v1h-3zM524 211h4v1h-4zM122 212h3v1h-3zM145 212h3v1h-3zM230 212h3v1h-3zM234 212h3v1h-3zM265 212h3v1h-3zM337 212h4v1h-4zM359 212h4v1h-4zM383 212h4v1h-4zM436 212h3v1h-3zM470 212h3v1h-3zM524 212h4v1h-4zM121 213h4v1h-4zM145 213h3v1h-3zM229 213h4v1h-4zM234 213h4v1h-4zM265 213h3v1h-3zM338 213h4v1h-4zM359 213h4v1h-4zM384 213h3v1h-3zM436 213h3v1h-3zM470 213h3v1h-3zM524 213h3v1h-3zM121 214h4v1h-4zM145 214h3v1h-3zM229 214h4v1h-4zM234 214h4v1h-4zM265 214h3v1h-3zM338 214h4v1h-4zM359 214h3v1h-3zM384 214h3v1h-3zM436 214h3v1h-3zM470 214h3v1h-3zM524 214h3v1h-3zM121 215h3v1h-3zM145 215h4v1h-4zM229 215h3v1h-3zM235 215h3v1h-3zM264 215h4v1h-4zM339 215h4v1h-4zM359 215h3v1h-3zM384 215h3v1h-3zM436 215h3v1h-3zM470 215h3v1h-3zM523 215h4v1h-4zM121 216h3v1h-3zM145 216h4v1h-4zM229 216h3v1h-3zM235 216h3v1h-3zM264 216h4v1h-4zM339 216h5v1h-5zM358 216h4v1h-4zM384 216h3v1h-3zM436 216h3v1h-3zM470 216h3v1h-3zM523 216h4v1h-4zM121 217h3v1h-3zM146 217h3v1h-3zM229 217h3v1h-3zM235 217h3v1h-3zM264 217h3v1h-3zM340 217h4v1h-4zM358 217h4v1h-4zM384 217h4v1h-4zM436 217h3v1h-3zM470 217h4v1h-4zM523 217h3v1h-3zM121 218h3v1h-3zM146 218h3v1h-3zM228 218h4v1h-4zM235 218h4v1h-4zM264 218h3v1h-3zM341 218h4v1h-4zM358 218h3v1h-3zM384 218h4v1h-4zM436 218h3v1h-3zM470 218h4v1h-4zM523 218h3v1h-3zM121 219h3v1h-3zM146 219h3v1h-3zM172 219h3v1h-3zM228 219h4v1h-4zM235 219h4v1h-4zM264 219h3v1h-3zM341 219h4v1h-4zM358 219h3v1h-3zM385 219h3v1h-3zM435 219h4v1h-4zM471 219h3v1h-3zM523 219h3v1h-3zM120 220h4v1h-4zM146 220h3v1h-3zM171 220h5v1h-5zM228 220h3v1h-3zM236 220h3v1h-3zM264 220h3v1h-3zM342 220h4v1h-4zM357 220h4v1h-4zM385 220h3v1h-3zM435 220h4v1h-4zM471 220h3v1h-3zM522 220h4v1h-4zM120 221h4v1h-4zM146 221h4v1h-4zM171 221h5v1h-5zM228 221h3v1h-3zM236 221h3v1h-3zM264 221h3v1h-3zM342 221h4v1h-4zM357 221h4v1h-4zM385 221h3v1h-3zM435 221h3v1h-3zM471 221h3v1h-3zM522 221h4v1h-4zM120 222h3v1h-3zM146 222h4v1h-4zM170 222h7v1h-7zM228 222h3v1h-3zM236 222h3v1h-3zM263 222h4v1h-4zM343 222h4v1h-4zM357 222h3v1h-3zM385 222h4v1h-4zM435 222h3v1h-3zM471 222h3v1h-3zM522 222h3v1h-3zM120 223h3v1h-3zM147 223h3v1h-3zM170 223h7v1h-7zM227 223h4v1h-4zM236 223h4v1h-4zM263 223h4v1h-4zM343 223h4v1h-4zM357 223h3v1h-3zM385 223h4v1h-4zM435 223h3v1h-3zM471 223h3v1h-3zM522 223h3v1h-3zM120 224h3v1h-3zM147 224h3v1h-3zM169 224h4v1h-4zM174 224h4v1h-4zM227 224h4v1h-4zM236 224h4v1h-4zM263 224h3v1h-3zM344 224h4v1h-4zM356 224h4v1h-4zM386 224h3v1h-3zM435 224h3v1h-3zM471 224h3v1h-3zM521 224h4v1h-4zM120 225h3v1h-3zM147 225h3v1h-3zM169 225h4v1h-4zM174 225h5v1h-5zM227 225h3v1h-3zM237 225h3v1h-3zM263 225h3v1h-3zM344 225h4v1h-4zM356 225h4v1h-4zM386 225h3v1h-3zM435 225h3v1h-3zM471 225h3v1h-3zM521 225h4v1h-4zM120 226h3v1h-3zM147 226h3v1h-3zM168 226h4v1h-4zM175 226h4v1h-4zM227 226h3v1h-3zM237 226h3v1h-3zM263 226h3v1h-3zM345 226h4v1h-4zM356 226h3v1h-3zM386 226h3v1h-3zM435 226h3v1h-3zM471 226h3v1h-3zM521 226h3v1h-3zM120 227h3v1h-3zM147 227h4v1h-4zM167 227h5v1h-5zM176 227h4v1h-4zM227 227h3v1h-3zM237 227h3v1h-3zM263 227h3v1h-3zM345 227h5v1h-5zM356 227h3v1h-3zM386 227h3v1h-3zM435 227h3v1h-3zM471 227h4v1h-4zM521 227h3v1h-3zM119 228h4v1h-4zM147 228h4v1h-4zM167 228h4v1h-4zM176 228h4v1h-4zM227 228h3v1h-3zM237 228h4v1h-4zM263 228h3v1h-3zM346 228h4v1h-4zM356 228h3v1h-3zM386 228h4v1h-4zM435 228h3v1h-3zM471 228h4v1h-4zM520 228h4v1h-4zM119 229h4v1h-4zM148 229h3v1h-3zM166 229h4v1h-4zM177 229h4v1h-4zM226 229h4v1h-4zM237 229h4v1h-4zM262 229h4v1h-4zM347 229h4v1h-4zM355 229h4v1h-4zM386 229h4v1h-4zM434 229h4v1h-4zM472 229h3v1h-3zM520 229h4v1h-4zM119 230h3v1h-3zM148 230h3v1h-3zM166 230h4v1h-4zM177 230h5v1h-5zM226 230h4v1h-4zM238 230h3v1h-3zM262 230h4v1h-4zM347 230h4v1h-4zM355 230h4v1h-4zM387 230h3v1h-3zM434 230h4v1h-4zM472 230h3v1h-3zM520 230h3v1h-3zM119 231h3v1h-3zM148 231h3v1h-3zM165 231h4v1h-4zM178 231h4v1h-4zM226 231h3v1h-3zM238 231h3v1h-3zM262 231h3v1h-3zM348 231h4v1h-4zM355 231h3v1h-3zM387 231h3v1h-3zM434 231h3v1h-3zM472 231h3v1h-3zM520 231h3v1h-3zM119 232h3v1h-3zM148 232h3v1h-3zM165 232h4v1h-4zM179 232h4v1h-4zM226 232h3v1h-3zM238 232h3v1h-3zM262 232h3v1h-3zM348 232h4v1h-4zM355 232h3v1h-3zM387 232h3v1h-3zM434 232h3v1h-3zM472 232h3v1h-3zM519 232h4v1h-4zM119 233h3v1h-3zM148 233h4v1h-4zM164 233h4v1h-4zM179 233h4v1h-4zM226 233h3v1h-3zM238 233h4v1h-4zM262 233h3v1h-3zM349 233h4v1h-4zM354 233h4v1h-4zM387 233h4v1h-4zM434 233h3v1h-3zM472 233h3v1h-3zM519 233h4v1h-4zM119 234h3v1h-3zM148 234h4v1h-4zM163 234h5v1h-5zM180 234h4v1h-4zM225 234h4v1h-4zM238 234h4v1h-4zM262 234h3v1h-3zM349 234h4v1h-4zM354 234h4v1h-4zM387 234h4v1h-4zM434 234h3v1h-3zM472 234h3v1h-3zM519 234h3v1h-3zM118 235h4v1h-4zM149 235h3v1h-3zM163 235h4v1h-4zM180 235h5v1h-5zM225 235h4v1h-4zM239 235h3v1h-3zM262 235h3v1h-3zM350 235h7v1h-7zM388 235h3v1h-3zM434 235h3v1h-3zM472 235h3v1h-3zM519 235h3v1h-3zM118 236h4v1h-4zM149 236h3v1h-3zM162 236h4v1h-4zM181 236h4v1h-4zM225 236h3v1h-3zM239 236h3v1h-3zM261 236h4v1h-4zM350 236h7v1h-7zM388 236h3v1h-3zM434 236h3v1h-3zM472 236h3v1h-3zM518 236h4v1h-4zM118 237h3v1h-3zM149 237h3v1h-3zM162 237h4v1h-4zM182 237h4v1h-4zM225 237h3v1h-3zM239 237h3v1h-3zM261 237h4v1h-4zM351 237h6v1h-6zM388 237h3v1h-3zM434 237h3v1h-3zM472 237h4v1h-4zM518 237h4v1h-4zM118 238h3v1h-3zM149 238h3v1h-3zM161 238h4v1h-4zM182 238h5v1h-5zM225 238h3v1h-3zM239 238h4v1h-4zM261 238h3v1h-3zM351 238h6v1h-6zM388 238h3v1h-3zM434 238h3v1h-3zM472 238h4v1h-4zM518 238h3v1h-3zM92 239h3v1h-3zM118 239h3v1h-3zM149 239h4v1h-4zM161 239h4v1h-4zM183 239h4v1h-4zM224 239h4v1h-4zM239 239h4v1h-4zM261 239h3v1h-3zM352 239h4v1h-4zM388 239h4v1h-4zM433 239h4v1h-4zM473 239h3v1h-3zM518 239h3v1h-3zM92 240h3v1h-3zM118 240h3v1h-3zM149 240h4v1h-4zM160 240h4v1h-4zM184 240h4v1h-4zM224 240h4v1h-4zM240 240h3v1h-3zM261 240h3v1h-3zM352 240h4v1h-4zM388 240h4v1h-4zM433 240h4v1h-4zM473 240h3v1h-3zM518 240h3v1h-3zM92 241h4v1h-4zM118 241h3v1h-3zM150 241h3v1h-3zM159 241h5v1h-5zM184 241h4v1h-4zM224 241h3v1h-3zM240 241h3v1h-3zM261 241h3v1h-3zM353 241h3v1h-3zM389 241h3v1h-3zM433 241h3v1h-3zM473 241h3v1h-3zM517 241h4v1h-4zM92 242h4v1h-4zM118 242h3v1h-3zM150 242h3v1h-3zM159 242h4v1h-4zM185 242h4v1h-4zM224 242h3v1h-3zM240 242h3v1h-3zM261 242h3v1h-3zM389 242h3v1h-3zM433 242h3v1h-3zM473 242h4v1h-4zM517 242h4v1h-4zM93 243h4v1h-4zM117 243h4v1h-4zM150 243h3v1h-3zM158 243h4v1h-4zM185 243h5v1h-5zM224 243h3v1h-3zM240 243h4v1h-4zM260 243h4v1h-4zM389 243h3v1h-3zM433 243h3v1h-3zM473 243h4v1h-4zM517 243h3v1h-3zM93 244h4v1h-4zM117 244h4v1h-4zM150 244h3v1h-3zM158 244h4v1h-4zM186 244h4v1h-4zM223 244h4v1h-4zM240 244h4v1h-4zM260 244h4v1h-4zM389 244h4v1h-4zM433 244h3v1h-3zM474 244h4v1h-4zM517 244h3v1h-3zM94 245h4v1h-4zM117 245h3v1h-3zM150 245h4v1h-4zM157 245h4v1h-4zM187 245h4v1h-4zM223 245h4v1h-4zM241 245h3v1h-3zM260 245h3v1h-3zM389 245h4v1h-4zM432 245h4v1h-4zM474 245h4v1h-4zM516 245h4v1h-4zM94 246h4v1h-4zM117 246h3v1h-3zM150 246h4v1h-4zM157 246h4v1h-4zM187 246h4v1h-4zM223 246h3v1h-3zM241 246h3v1h-3zM260 246h3v1h-3zM390 246h3v1h-3zM432 246h4v1h-4zM475 246h4v1h-4zM516 246h4v1h-4zM95 247h4v1h-4zM117 247h3v1h-3zM151 247h3v1h-3zM156 247h4v1h-4zM188 247h4v1h-4zM223 247h3v1h-3zM241 247h3v1h-3zM260 247h3v1h-3zM390 247h3v1h-3zM431 247h4v1h-4zM475 247h5v1h-5zM516 247h3v1h-3zM95 248h4v1h-4zM117 248h3v1h-3zM151 248h3v1h-3zM155 248h5v1h-5zM188 248h5v1h-5zM223 248h3v1h-3zM241 248h4v1h-4zM260 248h3v1h-3zM390 248h3v1h-3zM430 248h5v1h-5zM476 248h4v1h-4zM516 248h3v1h-3zM96 249h3v1h-3zM117 249h3v1h-3zM151 249h3v1h-3zM155 249h4v1h-4zM189 249h4v1h-4zM222 249h4v1h-4zM241 249h4v1h-4zM260 249h3v1h-3zM390 249h3v1h-3zM430 249h4v1h-4zM477 249h4v1h-4zM515 249h4v1h-4zM96 250h4v1h-4zM117 250h3v1h-3zM151 250h7v1h-7zM190 250h4v1h-4zM222 250h4v1h-4zM242 250h3v1h-3zM259 250h4v1h-4zM390 250h4v1h-4zM429 250h4v1h-4zM477 250h4v1h-4zM515 250h4v1h-4zM96 251h4v1h-4zM116 251h4v1h-4zM151 251h7v1h-7zM190 251h4v1h-4zM222 251h3v1h-3zM242 251h3v1h-3zM259 251h4v1h-4zM390 251h4v1h-4zM429 251h4v1h-4zM478 251h4v1h-4zM515 251h3v1h-3zM97 252h4v1h-4zM116 252h4v1h-4zM151 252h6v1h-6zM191 252h4v1h-4zM222 252h3v1h-3zM242 252h3v1h-3zM259 252h3v1h-3zM391 252h3v1h-3zM428 252h4v1h-4zM478 252h4v1h-4zM515 252h3v1h-3zM97 253h4v1h-4zM116 253h3v1h-3zM152 253h5v1h-5zM191 253h4v1h-4zM222 253h3v1h-3zM242 253h3v1h-3zM259 253h3v1h-3zM391 253h3v1h-3zM427 253h5v1h-5zM479 253h4v1h-4zM514 253h4v1h-4zM98 254h4v1h-4zM116 254h3v1h-3zM152 254h4v1h-4zM192 254h4v1h-4zM221 254h4v1h-4zM242 254h4v1h-4zM259 254h3v1h-3zM391 254h3v1h-3zM427 254h4v1h-4zM479 254h5v1h-5zM514 254h4v1h-4zM98 255h4v1h-4zM116 255h3v1h-3zM152 255h4v1h-4zM192 255h4v1h-4zM221 255h4v1h-4zM242 255h4v1h-4zM259 255h3v1h-3zM391 255h4v1h-4zM426 255h4v1h-4zM480 255h4v1h-4zM514 255h3v1h-3zM99 256h4v1h-4zM116 256h3v1h-3zM152 256h3v1h-3zM193 256h4v1h-4zM221 256h3v1h-3zM243 256h3v1h-3zM259 256h3v1h-3zM391 256h4v1h-4zM425 256h5v1h-5zM481 256h4v1h-4zM514 256h3v1h-3zM99 257h4v1h-4zM116 257h3v1h-3zM193 257h4v1h-4zM221 257h3v1h-3zM243 257h3v1h-3zM258 257h4v1h-4zM392 257h3v1h-3zM425 257h4v1h-4zM481 257h4v1h-4zM513 257h4v1h-4zM100 258h3v1h-3zM115 258h4v1h-4zM194 258h3v1h-3zM221 258h3v1h-3zM243 258h3v1h-3zM258 258h4v1h-4zM392 258h3v1h-3zM424 258h4v1h-4zM482 258h4v1h-4zM513 258h4v1h-4zM100 259h4v1h-4zM115 259h4v1h-4zM194 259h4v1h-4zM220 259h4v1h-4zM243 259h4v1h-4zM258 259h3v1h-3zM392 259h3v1h-3zM424 259h4v1h-4zM482 259h5v1h-5zM513 259h3v1h-3zM100 260h4v1h-4zM115 260h3v1h-3zM194 260h4v1h-4zM220 260h4v1h-4zM243 260h4v1h-4zM258 260h3v1h-3zM392 260h3v1h-3zM423 260h4v1h-4zM483 260h4v1h-4zM512 260h4v1h-4zM101 261h4v1h-4zM115 261h3v1h-3zM195 261h4v1h-4zM220 261h3v1h-3zM244 261h3v1h-3zM258 261h3v1h-3zM392 261h4v1h-4zM422 261h5v1h-5zM484 261h4v1h-4zM510 261h6v1h-6zM101 262h4v1h-4zM115 262h3v1h-3zM195 262h4v1h-4zM220 262h3v1h-3zM244 262h3v1h-3zM258 262h3v1h-3zM392 262h4v1h-4zM422 262h4v1h-4zM484 262h4v1h-4zM509 262h6v1h-6zM102 263h4v1h-4zM115 263h3v1h-3zM196 263h3v1h-3zM220 263h3v1h-3zM244 263h3v1h-3zM258 263h3v1h-3zM393 263h3v1h-3zM421 263h4v1h-4zM485 263h4v1h-4zM508 263h6v1h-6zM102 264h4v1h-4zM115 264h3v1h-3zM196 264h4v1h-4zM219 264h4v1h-4zM244 264h4v1h-4zM257 264h4v1h-4zM393 264h5v1h-5zM420 264h5v1h-5zM485 264h5v1h-5zM507 264h5v1h-5zM103 265h4v1h-4zM115 265h3v1h-3zM196 265h4v1h-4zM219 265h4v1h-4zM244 265h4v1h-4zM257 265h4v1h-4zM393 265h6v1h-6zM420 265h4v1h-4zM486 265h4v1h-4zM505 265h6v1h-6zM103 266h4v1h-4zM114 266h4v1h-4zM197 266h4v1h-4zM219 266h3v1h-3zM245 266h3v1h-3zM257 266h3v1h-3zM394 266h7v1h-7zM419 266h4v1h-4zM487 266h4v1h-4zM504 266h6v1h-6zM104 267h3v1h-3zM114 267h4v1h-4zM197 267h4v1h-4zM219 267h3v1h-3zM245 267h3v1h-3zM257 267h3v1h-3zM396 267h6v1h-6zM419 267h4v1h-4zM487 267h4v1h-4zM503 267h6v1h-6zM104 268h4v1h-4zM114 268h3v1h-3zM198 268h3v1h-3zM219 268h3v1h-3zM245 268h3v1h-3zM257 268h3v1h-3zM397 268h7v1h-7zM418 268h4v1h-4zM488 268h4v1h-4zM502 268h5v1h-5zM104 269h4v1h-4zM114 269h3v1h-3zM198 269h4v1h-4zM218 269h4v1h-4zM245 269h4v1h-4zM257 269h3v1h-3zM399 269h6v1h-6zM417 269h5v1h-5zM488 269h4v1h-4zM500 269h6v1h-6zM105 270h4v1h-4zM114 270h3v1h-3zM198 270h4v1h-4zM218 270h4v1h-4zM245 270h4v1h-4zM256 270h4v1h-4zM400 270h7v1h-7zM417 270h4v1h-4zM489 270h4v1h-4zM499 270h6v1h-6zM105 271h4v1h-4zM114 271h3v1h-3zM199 271h4v1h-4zM218 271h3v1h-3zM246 271h3v1h-3zM256 271h4v1h-4zM402 271h7v1h-7zM416 271h4v1h-4zM489 271h5v1h-5zM498 271h6v1h-6zM106 272h4v1h-4zM114 272h3v1h-3zM199 272h4v1h-4zM218 272h3v1h-3zM246 272h3v1h-3zM256 272h3v1h-3zM403 272h7v1h-7zM415 272h5v1h-5zM490 272h4v1h-4zM497 272h5v1h-5zM106 273h4v1h-4zM113 273h4v1h-4zM200 273h3v1h-3zM218 273h3v1h-3zM246 273h3v1h-3zM256 273h3v1h-3zM405 273h7v1h-7zM415 273h4v1h-4zM491 273h10v1h-10zM107 274h4v1h-4zM113 274h4v1h-4zM200 274h4v1h-4zM217 274h4v1h-4zM246 274h4v1h-4zM256 274h3v1h-3zM407 274h6v1h-6zM414 274h4v1h-4zM491 274h9v1h-9zM107 275h4v1h-4zM113 275h3v1h-3zM200 275h4v1h-4zM217 275h4v1h-4zM246 275h4v1h-4zM256 275h3v1h-3zM408 275h10v1h-10zM492 275h7v1h-7zM108 276h3v1h-3zM113 276h3v1h-3zM201 276h4v1h-4zM217 276h3v1h-3zM247 276h3v1h-3zM256 276h3v1h-3zM410 276h7v1h-7zM492 276h5v1h-5zM108 277h4v1h-4zM113 277h3v1h-3zM201 277h4v1h-4zM217 277h3v1h-3zM247 277h3v1h-3zM255 277h4v1h-4zM411 277h6v1h-6zM493 277h3v1h-3zM108 278h4v1h-4zM113 278h3v1h-3zM202 278h3v1h-3zM217 278h3v1h-3zM247 278h3v1h-3zM255 278h4v1h-4zM413 278h3v1h-3zM109 279h7v1h-7zM202 279h4v1h-4zM217 279h3v1h-3zM247 279h4v1h-4zM255 279h3v1h-3zM109 280h7v1h-7zM202 280h4v1h-4zM216 280h4v1h-4zM247 280h4v1h-4zM255 280h3v1h-3zM110 281h6v1h-6zM203 281h4v1h-4zM216 281h4v1h-4zM248 281h3v1h-3zM255 281h3v1h-3zM110 282h6v1h-6zM203 282h4v1h-4zM216 282h3v1h-3zM248 282h3v1h-3zM255 282h3v1h-3zM111 283h4v1h-4zM204 283h3v1h-3zM216 283h3v1h-3zM248 283h3v1h-3zM255 283h3v1h-3zM111 284h4v1h-4zM204 284h4v1h-4zM216 284h3v1h-3zM248 284h4v1h-4zM254 284h4v1h-4zM112 285h3v1h-3zM204 285h4v1h-4zM215 285h4v1h-4zM248 285h4v1h-4zM254 285h4v1h-4zM112 286h3v1h-3zM205 286h4v1h-4zM215 286h4v1h-4zM249 286h3v1h-3zM254 286h3v1h-3zM205 287h4v1h-4zM215 287h3v1h-3zM249 287h3v1h-3zM254 287h3v1h-3zM206 288h3v1h-3zM215 288h3v1h-3zM249 288h3v1h-3zM254 288h3v1h-3zM206 289h4v1h-4zM215 289h3v1h-3zM249 289h4v1h-4zM254 289h3v1h-3zM206 290h4v1h-4zM214 290h4v1h-4zM249 290h4v1h-4zM254 290h3v1h-3zM207 291h4v1h-4zM214 291h4v1h-4zM250 291h7v1h-7zM207 292h4v1h-4zM214 292h3v1h-3zM250 292h7v1h-7zM208 293h3v1h-3zM214 293h3v1h-3zM250 293h6v1h-6zM208 294h4v1h-4zM214 294h3v1h-3zM250 294h6v1h-6zM208 295h4v1h-4zM213 295h4v1h-4zM250 295h6v1h-6zM209 296h8v1h-8zM251 296h5v1h-5zM209 297h7v1h-7zM251 297h5v1h-5zM210 298h6v1h-6zM251 298h5v1h-5zM210 299h6v1h-6zM251 299h5v1h-5zM210 300h6v1h-6zM251 300h4v1h-4zM211 301h5v1h-5zM252 301h3v1h-3zM211 302h4v1h-4zM252 302h3v1h-3zM212 303h3v1h-3zM252 303h3v1h-3zM212 304h3v1h-3z"/>
</svg>
</body></html>
